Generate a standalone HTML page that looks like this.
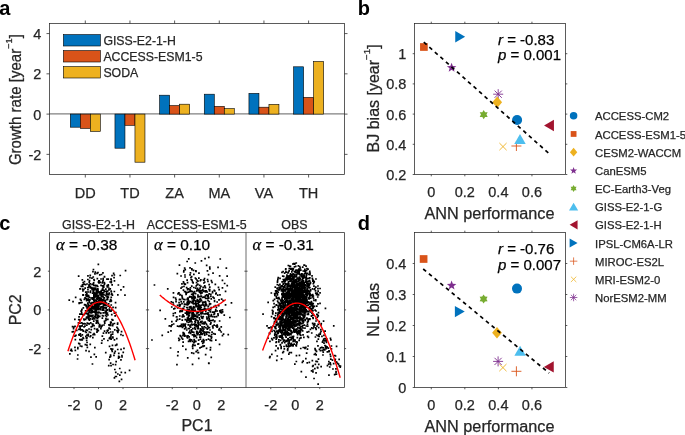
<!DOCTYPE html>
<html><head><meta charset="utf-8"><style>
html,body{margin:0;padding:0;background:#fff;}
svg{display:block;font-family:"Liberation Sans", sans-serif;will-change:transform;}
text{stroke:#262626;stroke-width:0.25px;}
text.k{stroke:#000;}
text.b{stroke-width:0;}
</style></head><body>
<svg width="685" height="435" viewBox="0 0 685 435">
<rect width="685" height="435" fill="#fff"/>
<text x="-0.8" y="14.6" font-size="20" text-anchor="start" font-weight="bold" fill="#000" class="b" >a</text>
<text x="357.8" y="14.6" font-size="20" text-anchor="start" font-weight="bold" fill="#000" class="b" >b</text>
<text x="-0.8" y="229.8" font-size="20" text-anchor="start" font-weight="bold" fill="#000" class="b" >c</text>
<text x="357.7" y="229.8" font-size="20" text-anchor="start" font-weight="bold" fill="#000" class="b" >d</text>
<line x1="49.5" y1="113.95" x2="344.5" y2="113.95" stroke="#808080" stroke-width="1.3"/>
<rect x="70.3" y="114.1" width="10" height="13.1" fill="#0072BD" stroke="#000" stroke-width="0.6"/>
<rect x="80.3" y="114.1" width="10" height="14.3" fill="#D95319" stroke="#000" stroke-width="0.6"/>
<rect x="90.3" y="114.1" width="10" height="17.3" fill="#EDB120" stroke="#000" stroke-width="0.6"/>
<rect x="114.96" y="114.1" width="10" height="34.1" fill="#0072BD" stroke="#000" stroke-width="0.6"/>
<rect x="124.96" y="114.1" width="10" height="11.2" fill="#D95319" stroke="#000" stroke-width="0.6"/>
<rect x="134.96" y="114.1" width="10" height="48.1" fill="#EDB120" stroke="#000" stroke-width="0.6"/>
<rect x="159.62" y="95.2" width="10" height="18.9" fill="#0072BD" stroke="#000" stroke-width="0.6"/>
<rect x="169.62" y="105.6" width="10" height="8.5" fill="#D95319" stroke="#000" stroke-width="0.6"/>
<rect x="179.62" y="104.2" width="10" height="9.9" fill="#EDB120" stroke="#000" stroke-width="0.6"/>
<rect x="204.28" y="94.2" width="10" height="19.9" fill="#0072BD" stroke="#000" stroke-width="0.6"/>
<rect x="214.28" y="106.4" width="10" height="7.7" fill="#D95319" stroke="#000" stroke-width="0.6"/>
<rect x="224.28" y="108.6" width="10" height="5.5" fill="#EDB120" stroke="#000" stroke-width="0.6"/>
<rect x="248.94" y="93.4" width="10" height="20.7" fill="#0072BD" stroke="#000" stroke-width="0.6"/>
<rect x="258.94" y="107.2" width="10" height="6.9" fill="#D95319" stroke="#000" stroke-width="0.6"/>
<rect x="268.94" y="104.4" width="10" height="9.7" fill="#EDB120" stroke="#000" stroke-width="0.6"/>
<rect x="293.6" y="66.8" width="10" height="47.3" fill="#0072BD" stroke="#000" stroke-width="0.6"/>
<rect x="303.6" y="97.4" width="10" height="16.7" fill="#D95319" stroke="#000" stroke-width="0.6"/>
<rect x="313.6" y="61.5" width="10" height="52.6" fill="#EDB120" stroke="#000" stroke-width="0.6"/>
<rect x="49.5" y="23.5" width="295" height="151" fill="none" stroke="#262626" stroke-width="0.75"/>
<path d="M85.3 23.5v-3M85.3 174.5v3M129.96 23.5v-3M129.96 174.5v3M174.62 23.5v-3M174.62 174.5v3M219.28 23.5v-3M219.28 174.5v3M263.94 23.5v-3M263.94 174.5v3M308.6 23.5v-3M308.6 174.5v3" stroke="#262626" stroke-width="0.75"/>
<path d="M49.5 33.57h-3M344.5 33.57h3M49.5 73.83h-3M344.5 73.83h3M49.5 114.1h-3M344.5 114.1h3M49.5 154.37h-3M344.5 154.37h3" stroke="#262626" stroke-width="0.75"/>
<text x="41.3" y="39.07" font-size="14.5" text-anchor="end" font-weight="normal" fill="#262626" >4</text>
<text x="41.3" y="79.33" font-size="14.5" text-anchor="end" font-weight="normal" fill="#262626" >2</text>
<text x="41.3" y="119.6" font-size="14.5" text-anchor="end" font-weight="normal" fill="#262626" >0</text>
<text x="41.3" y="159.87" font-size="14.5" text-anchor="end" font-weight="normal" fill="#262626" >-2</text>
<text x="85.3" y="197.9" font-size="14.5" text-anchor="middle" font-weight="normal" fill="#262626" >DD</text>
<text x="129.96" y="197.9" font-size="14.5" text-anchor="middle" font-weight="normal" fill="#262626" >TD</text>
<text x="174.62" y="197.9" font-size="14.5" text-anchor="middle" font-weight="normal" fill="#262626" >ZA</text>
<text x="219.28" y="197.9" font-size="14.5" text-anchor="middle" font-weight="normal" fill="#262626" >MA</text>
<text x="263.94" y="197.9" font-size="14.5" text-anchor="middle" font-weight="normal" fill="#262626" >VA</text>
<text x="308.6" y="197.9" font-size="14.5" text-anchor="middle" font-weight="normal" fill="#262626" >TH</text>
<rect x="63.4" y="34.6" width="37" height="11.4" fill="#0072BD" stroke="#000" stroke-width="0.6"/>
<text x="103.4" y="45.1" font-size="12.3" text-anchor="start" font-weight="normal" fill="#262626" >GISS-E2-1-H</text>
<rect x="63.4" y="50.6" width="37" height="11.4" fill="#D95319" stroke="#000" stroke-width="0.6"/>
<text x="103.4" y="61.1" font-size="12.3" text-anchor="start" font-weight="normal" fill="#262626" >ACCESS-ESM1-5</text>
<rect x="63.4" y="66.6" width="37" height="11.4" fill="#EDB120" stroke="#000" stroke-width="0.6"/>
<text x="103.4" y="77.1" font-size="12.3" text-anchor="start" font-weight="normal" fill="#262626" >SODA</text>
<text transform="translate(20.6,99.6) rotate(-90)" font-size="16" text-anchor="middle" fill="#262626" textLength="131" lengthAdjust="spacingAndGlyphs">Growth rate [year<tspan dy="-8.6" font-size="9.8">&#8722;1</tspan><tspan dy="8.6">]</tspan></text>
<rect x="414.5" y="23.5" width="151" height="151" fill="none" stroke="#262626" stroke-width="0.75"/>
<path d="M431.28 23.5v-1.8M431.28 174.5v1.8M464.83 23.5v-1.8M464.83 174.5v1.8M498.39 23.5v-1.8M498.39 174.5v1.8M531.94 23.5v-1.8M531.94 174.5v1.8" stroke="#262626" stroke-width="0.75"/>
<path d="M414.5 174.5h-1.8M565.5 174.5h1.8M414.5 144.3h-1.8M565.5 144.3h1.8M414.5 114.1h-1.8M565.5 114.1h1.8M414.5 83.9h-1.8M565.5 83.9h1.8M414.5 53.7h-1.8M565.5 53.7h1.8" stroke="#262626" stroke-width="0.75"/>
<text x="406.3" y="180" font-size="14.5" text-anchor="end" font-weight="normal" fill="#262626" >0.2</text>
<text x="406.3" y="149.8" font-size="14.5" text-anchor="end" font-weight="normal" fill="#262626" >0.4</text>
<text x="406.3" y="119.6" font-size="14.5" text-anchor="end" font-weight="normal" fill="#262626" >0.6</text>
<text x="406.3" y="89.4" font-size="14.5" text-anchor="end" font-weight="normal" fill="#262626" >0.8</text>
<text x="406.3" y="59.2" font-size="14.5" text-anchor="end" font-weight="normal" fill="#262626" >1</text>
<text x="431.28" y="197.1" font-size="14.5" text-anchor="middle" font-weight="normal" fill="#262626" >0</text>
<text x="464.83" y="197.1" font-size="14.5" text-anchor="middle" font-weight="normal" fill="#262626" >0.2</text>
<text x="498.39" y="197.1" font-size="14.5" text-anchor="middle" font-weight="normal" fill="#262626" >0.4</text>
<text x="531.94" y="197.1" font-size="14.5" text-anchor="middle" font-weight="normal" fill="#262626" >0.6</text>
<text x="489.5" y="218.8" font-size="16" text-anchor="middle" fill="#262626" textLength="130" lengthAdjust="spacingAndGlyphs">ANN performance</text>
<rect x="414.5" y="232.5" width="151" height="155" fill="none" stroke="#262626" stroke-width="0.75"/>
<path d="M431.28 232.5v-1.8M431.28 387.5v1.8M464.83 232.5v-1.8M464.83 387.5v1.8M498.39 232.5v-1.8M498.39 387.5v1.8M531.94 232.5v-1.8M531.94 387.5v1.8" stroke="#262626" stroke-width="0.75"/>
<path d="M414.5 387.5h-1.8M565.5 387.5h1.8M414.5 356.5h-1.8M565.5 356.5h1.8M414.5 325.5h-1.8M565.5 325.5h1.8M414.5 294.5h-1.8M565.5 294.5h1.8M414.5 263.5h-1.8M565.5 263.5h1.8" stroke="#262626" stroke-width="0.75"/>
<text x="406.3" y="393" font-size="14.5" text-anchor="end" font-weight="normal" fill="#262626" >0</text>
<text x="406.3" y="362" font-size="14.5" text-anchor="end" font-weight="normal" fill="#262626" >0.1</text>
<text x="406.3" y="331" font-size="14.5" text-anchor="end" font-weight="normal" fill="#262626" >0.2</text>
<text x="406.3" y="300" font-size="14.5" text-anchor="end" font-weight="normal" fill="#262626" >0.3</text>
<text x="406.3" y="269" font-size="14.5" text-anchor="end" font-weight="normal" fill="#262626" >0.4</text>
<text x="431.28" y="410.1" font-size="14.5" text-anchor="middle" font-weight="normal" fill="#262626" >0</text>
<text x="464.83" y="410.1" font-size="14.5" text-anchor="middle" font-weight="normal" fill="#262626" >0.2</text>
<text x="498.39" y="410.1" font-size="14.5" text-anchor="middle" font-weight="normal" fill="#262626" >0.4</text>
<text x="531.94" y="410.1" font-size="14.5" text-anchor="middle" font-weight="normal" fill="#262626" >0.6</text>
<text x="489.5" y="431.8" font-size="16" text-anchor="middle" fill="#262626" textLength="130" lengthAdjust="spacingAndGlyphs">ANN performance</text>
<text transform="translate(378.6,98.4) rotate(-90)" font-size="16" text-anchor="middle" fill="#262626" textLength="108" lengthAdjust="spacingAndGlyphs">BJ bias [year<tspan dy="-8.6" font-size="9.8">&#8722;1</tspan><tspan dy="8.6">]</tspan></text>
<text transform="translate(378.6,309.8) rotate(-90)" font-size="16" text-anchor="middle" fill="#262626">NL bias</text>
<text x="498" y="44.5" font-size="15" fill="#000" class="k"><tspan font-style="italic">r</tspan> = -0.83</text>
<text x="498" y="59.9" font-size="15" fill="#000" class="k"><tspan font-style="italic">p</tspan> = 0.001</text>
<text x="498" y="254.2" font-size="15" fill="#000" class="k"><tspan font-style="italic">r</tspan> = -0.76</text>
<text x="498" y="269.6" font-size="15" fill="#000" class="k"><tspan font-style="italic">p</tspan> = 0.007</text>
<path d="M511.4 146H521.4M516.4 141V151" stroke="#D95319" stroke-width="0.9" fill="none"/>
<path d="M511.4 371.3H521.4M516.4 366.3V376.3" stroke="#D95319" stroke-width="0.9" fill="none"/>
<path d="M499.4 143L506.6 150.2M499.4 150.2L506.6 143" stroke="#EDB120" stroke-width="0.9" fill="none"/>
<path d="M499.3 364L506.5 371.2M499.3 371.2L506.5 364" stroke="#EDB120" stroke-width="0.9" fill="none"/>
<path d="M493.2 94.2H503.2M498.2 89.2V99.2M494.6 90.6L501.8 97.8M494.6 97.8L501.8 90.6" stroke="#7E2F8E" stroke-width="0.9" fill="none"/>
<path d="M493.1 361.4H503.1M498.1 356.4V366.4M494.5 357.8L501.7 365M494.5 365L501.7 357.8" stroke="#7E2F8E" stroke-width="0.9" fill="none"/>
<circle cx="517.1" cy="120" r="5" fill="#0072BD"/>
<circle cx="517" cy="288.6" r="5" fill="#0072BD"/>
<rect x="420.05" y="43.15" width="7.7" height="7.7" fill="#D95319"/>
<rect x="419.75" y="255.15" width="7.7" height="7.7" fill="#D95319"/>
<polygon points="497.2,96.5 502.1,102.2 497.2,107.9 492.3,102.2" fill="#EDB120"/>
<polygon points="497,327.1 501.9,332.8 497,338.5 492.1,332.8" fill="#EDB120"/>
<polygon points="451.6,62.7 452.83,66 456.36,66.15 453.6,68.35 454.54,71.75 451.6,69.8 448.66,71.75 449.6,68.35 446.84,66.15 450.37,66" fill="#7E2F8E"/>
<polygon points="451.6,280.5 452.83,283.8 456.36,283.95 453.6,286.15 454.54,289.55 451.6,287.6 448.66,289.55 449.6,286.15 446.84,283.95 450.37,283.8" fill="#7E2F8E"/>
<polygon points="483.7,110 485.08,112.21 487.68,112.3 486.46,114.6 487.68,116.9 485.08,116.99 483.7,119.2 482.32,116.99 479.72,116.9 480.94,114.6 479.72,112.3 482.32,112.21" fill="#77AC30"/>
<polygon points="483.6,294.4 484.98,296.61 487.58,296.7 486.36,299 487.58,301.3 484.98,301.39 483.6,303.6 482.22,301.39 479.62,301.3 480.84,299 479.62,296.7 482.22,296.61" fill="#77AC30"/>
<polygon points="520,134.05 525.72,143.95 514.28,143.95" fill="#4DBEEE"/>
<polygon points="520.1,345.75 525.82,355.65 514.38,355.65" fill="#4DBEEE"/>
<polygon points="544.05,125.5 553.95,119.78 553.95,131.22" fill="#A2142F"/>
<polygon points="543.85,366.9 553.75,361.18 553.75,372.62" fill="#A2142F"/>
<polygon points="465.15,36.7 455.25,42.42 455.25,30.98" fill="#0072BD"/>
<polygon points="464.75,311.6 454.85,317.32 454.85,305.88" fill="#0072BD"/>
<path d="M423.80 42.20L426.64 44.73M429.33 47.12L432.17 49.64M434.86 52.04L437.70 54.56M440.39 56.95L443.23 59.48M445.92 61.87L448.76 64.40M451.45 66.79L454.29 69.32M456.98 71.71L459.82 74.23M462.51 76.63L465.35 79.15M468.03 81.54L470.87 84.07M473.56 86.46L476.40 88.99M479.09 91.38L481.93 93.90M484.62 96.30L487.46 98.82M490.15 101.22L492.99 103.74M495.68 106.13L498.52 108.66M501.21 111.05L504.05 113.58M506.74 115.97L509.58 118.49M512.27 120.89L515.11 123.41M517.80 125.80L520.64 128.33M523.33 130.72L526.17 133.25M528.86 135.64L531.70 138.17M534.39 140.56L537.23 143.08M539.92 145.48L542.76 148.00M545.45 150.39L548.29 152.92" stroke="#000" stroke-width="1.7" fill="none"/>
<path d="M423.20 269.00L426.13 271.42M428.90 273.72L431.83 276.14M434.61 278.43L437.53 280.85M440.31 283.15L443.24 285.57M446.01 287.86L448.94 290.28M451.71 292.58L454.64 295.00M457.42 297.29L460.35 299.71M463.12 302.01L466.05 304.43M468.82 306.72L471.75 309.15M474.53 311.44L477.46 313.86M480.23 316.15L483.16 318.58M485.93 320.87L488.86 323.29M491.64 325.59L494.56 328.01M497.34 330.30L500.27 332.72M503.04 335.02L505.97 337.44M508.74 339.73L511.67 342.15M514.45 344.45L517.38 346.87M520.15 349.16L523.08 351.58M525.85 353.88L528.78 356.30M531.56 358.59L534.49 361.02M537.26 363.31L540.19 365.73M542.96 368.03L545.89 370.45M548.67 372.74L549.10 373.10" stroke="#000" stroke-width="1.7" fill="none"/>
<circle cx="573.6" cy="115.8" r="3.75" fill="#0072BD"/>
<text x="595" y="120.4" font-size="11.3" text-anchor="start" font-weight="normal" fill="#262626" >ACCESS-CM2</text>
<rect x="570.71" y="131.08" width="5.78" height="5.78" fill="#D95319"/>
<text x="595" y="138.57" font-size="11.3" text-anchor="start" font-weight="normal" fill="#262626" >ACCESS-ESM1-5</text>
<polygon points="573.6,147.86 577.27,152.14 573.6,156.41 569.93,152.14" fill="#EDB120"/>
<text x="595" y="156.74" font-size="11.3" text-anchor="start" font-weight="normal" fill="#262626" >CESM2-WACCM</text>
<polygon points="573.6,166.94 574.53,169.41 577.17,169.53 575.1,171.17 575.8,173.72 573.6,172.26 571.4,173.72 572.1,171.17 570.03,169.53 572.67,169.41" fill="#7E2F8E"/>
<text x="595" y="174.91" font-size="11.3" text-anchor="start" font-weight="normal" fill="#262626" >CanESM5</text>
<polygon points="573.6,185.03 574.63,186.69 576.59,186.76 575.67,188.48 576.59,190.21 574.63,190.27 573.6,191.93 572.57,190.27 570.61,190.21 571.53,188.48 570.61,186.76 572.57,186.69" fill="#77AC30"/>
<text x="595" y="193.08" font-size="11.3" text-anchor="start" font-weight="normal" fill="#262626" >EC-Earth3-Veg</text>
<polygon points="573.6,202.69 578.17,210.61 569.03,210.61" fill="#4DBEEE"/>
<text x="595" y="211.25" font-size="11.3" text-anchor="start" font-weight="normal" fill="#262626" >GISS-E2-1-G</text>
<polygon points="569.64,224.82 577.56,220.25 577.56,229.39" fill="#A2142F"/>
<text x="595" y="229.42" font-size="11.3" text-anchor="start" font-weight="normal" fill="#262626" >GISS-E2-1-H</text>
<polygon points="577.56,242.99 569.64,247.56 569.64,238.42" fill="#0072BD"/>
<text x="595" y="247.59" font-size="11.3" text-anchor="start" font-weight="normal" fill="#262626" >IPSL-CM6A-LR</text>
<path d="M569.85 261.16H577.35M573.6 257.41V264.91" stroke="#D95319" stroke-width="0.75" fill="none"/>
<text x="595" y="265.76" font-size="11.3" text-anchor="start" font-weight="normal" fill="#262626" >MIROC-ES2L</text>
<path d="M570.9 276.63L576.3 282.03M570.9 282.03L576.3 276.63" stroke="#EDB120" stroke-width="0.75" fill="none"/>
<text x="595" y="283.93" font-size="11.3" text-anchor="start" font-weight="normal" fill="#262626" >MRI-ESM2-0</text>
<path d="M569.85 297.5H577.35M573.6 293.75V301.25M570.9 294.8L576.3 300.2M570.9 300.2L576.3 294.8" stroke="#7E2F8E" stroke-width="0.75" fill="none"/>
<text x="595" y="302.1" font-size="11.3" text-anchor="start" font-weight="normal" fill="#262626" >NorESM2-MM</text>
<path d="M97.0 302.9h1.7M99.7 302.2h1.7M94.6 306.1h1.7M89.2 309.4h1.7M93.0 308.8h1.7M88.3 316.4h1.7M97.6 307.5h1.7M108.9 311.0h1.7M92.7 302.9h1.7M91.6 319.2h1.7M101.4 301.1h1.7M100.2 302.3h1.7M98.0 305.9h1.7M88.8 309.6h1.7M96.8 297.1h1.7M103.2 325.0h1.7M85.2 298.3h1.7M93.0 301.0h1.7M80.3 300.5h1.7M85.7 299.3h1.7M80.8 312.3h1.7M95.0 307.4h1.7M85.9 296.1h1.7M99.4 298.7h1.7M98.4 301.5h1.7M95.4 323.1h1.7M74.8 297.3h1.7M92.3 289.4h1.7M96.6 291.4h1.7M98.0 301.2h1.7M83.5 323.7h1.7M92.8 292.2h1.7M88.4 305.9h1.7M89.9 335.9h1.7M106.4 299.4h1.7M89.9 322.9h1.7M96.8 320.4h1.7M104.8 312.1h1.7M91.9 288.1h1.7M96.1 308.8h1.7M98.0 300.7h1.7M97.6 282.1h1.7M86.2 284.0h1.7M97.7 305.4h1.7M109.0 307.1h1.7M83.4 320.0h1.7M104.6 312.8h1.7M98.1 298.7h1.7M91.4 299.1h1.7M114.7 302.7h1.7M103.8 291.6h1.7M86.5 313.8h1.7M97.7 304.8h1.7M102.1 294.9h1.7M95.4 296.7h1.7M103.1 290.6h1.7M96.5 299.1h1.7M102.9 308.0h1.7M109.7 299.5h1.7M91.1 316.7h1.7M98.8 324.7h1.7M93.0 296.8h1.7M98.2 304.8h1.7M86.6 300.2h1.7M91.9 325.4h1.7M95.3 308.7h1.7M105.0 311.6h1.7M107.1 315.0h1.7M85.4 332.5h1.7M90.0 308.3h1.7M102.7 292.8h1.7M79.5 299.3h1.7M93.0 311.7h1.7M96.2 304.3h1.7M108.1 294.6h1.7M103.1 338.8h1.7M94.2 305.7h1.7M93.8 297.3h1.7M94.8 295.5h1.7M110.5 282.7h1.7M93.3 289.8h1.7M94.4 300.2h1.7M100.1 300.3h1.7M96.0 294.2h1.7M95.3 310.9h1.7M87.2 304.6h1.7M96.9 292.7h1.7M93.1 279.5h1.7M107.3 306.1h1.7M102.8 304.7h1.7M96.8 301.6h1.7M102.9 287.2h1.7M94.0 304.5h1.7M106.3 285.6h1.7M97.0 316.3h1.7M102.2 306.4h1.7M85.7 306.6h1.7M100.1 294.2h1.7M82.1 290.9h1.7M79.1 323.1h1.7M94.4 315.6h1.7M89.1 299.9h1.7M98.5 312.4h1.7M116.8 323.2h1.7M89.7 291.0h1.7M91.5 297.9h1.7M98.8 297.9h1.7M101.4 310.1h1.7M95.5 291.2h1.7M95.2 307.1h1.7M103.2 290.3h1.7M101.6 315.6h1.7M87.9 314.8h1.7M96.3 301.5h1.7M97.3 312.9h1.7M87.7 295.6h1.7M99.3 300.8h1.7M89.5 315.7h1.7M105.6 303.2h1.7M98.7 308.5h1.7M97.8 292.6h1.7M91.8 312.1h1.7M96.0 309.6h1.7M79.4 288.9h1.7M87.1 275.9h1.7M100.2 279.0h1.7M78.3 303.3h1.7M104.5 301.3h1.7M81.6 284.8h1.7M103.7 305.7h1.7M89.6 316.4h1.7M103.9 302.6h1.7M98.2 298.4h1.7M83.5 314.5h1.7M108.1 324.8h1.7M109.8 322.2h1.7M96.5 295.7h1.7M94.6 313.6h1.7M95.6 305.9h1.7M88.4 301.4h1.7M106.7 296.3h1.7M92.2 308.3h1.7M96.6 297.8h1.7M90.0 315.3h1.7M91.5 308.6h1.7M85.8 317.0h1.7M108.1 289.9h1.7M95.7 304.4h1.7M105.6 313.4h1.7M97.2 308.5h1.7M90.9 306.9h1.7M94.2 295.3h1.7M92.1 324.2h1.7M97.1 317.1h1.7M93.7 308.9h1.7M94.4 272.2h1.7M84.9 292.1h1.7M89.9 305.5h1.7M111.6 295.1h1.7M91.1 278.2h1.7M87.7 307.0h1.7M100.0 308.7h1.7M109.4 288.9h1.7M84.2 297.9h1.7M95.2 295.7h1.7M91.5 310.5h1.7M81.5 279.9h1.7M103.5 282.6h1.7M96.8 297.0h1.7M97.7 295.5h1.7M90.4 329.6h1.7M101.0 296.1h1.7M92.3 306.5h1.7M95.8 298.6h1.7M87.3 295.5h1.7M86.3 308.4h1.7M108.8 325.4h1.7M92.6 299.5h1.7M99.6 313.4h1.7M96.7 308.2h1.7M93.1 311.7h1.7M92.6 308.4h1.7M102.6 333.1h1.7M94.4 288.8h1.7M95.7 300.9h1.7M97.2 290.1h1.7M107.4 279.2h1.7M103.0 303.8h1.7M100.4 326.8h1.7M92.1 315.3h1.7M84.8 319.3h1.7M105.4 310.4h1.7M105.6 303.1h1.7M95.8 329.3h1.7M101.8 299.8h1.7M103.9 323.1h1.7M104.4 300.4h1.7M105.2 305.5h1.7M93.0 308.0h1.7M110.4 305.0h1.7M86.0 310.9h1.7M104.6 311.8h1.7M101.4 325.3h1.7M104.7 304.5h1.7M113.6 280.9h1.7M110.1 279.2h1.7M86.9 287.5h1.7M82.1 295.2h1.7M104.2 312.6h1.7M88.1 285.9h1.7M96.9 304.8h1.7M104.4 305.0h1.7M82.5 307.8h1.7M78.4 302.9h1.7M99.3 309.6h1.7M97.4 305.1h1.7M94.9 317.7h1.7M97.4 308.8h1.7M89.4 275.4h1.7M83.7 305.0h1.7M95.6 307.1h1.7M88.5 297.4h1.7M82.5 295.2h1.7M101.5 318.1h1.7M96.5 306.7h1.7M100.6 292.5h1.7M88.3 300.7h1.7M91.2 302.6h1.7M88.2 284.5h1.7M89.2 312.6h1.7M98.8 303.1h1.7M90.1 310.6h1.7M100.2 285.4h1.7M100.0 328.6h1.7M114.9 312.5h1.7M84.8 310.8h1.7M104.9 295.7h1.7M96.2 296.5h1.7M96.9 286.5h1.7M84.2 323.9h1.7M93.0 294.7h1.7M103.6 307.8h1.7M96.3 312.5h1.7M97.8 297.3h1.7M94.5 315.7h1.7M107.2 330.2h1.7M96.8 308.8h1.7M77.6 322.9h1.7M90.9 312.3h1.7M79.7 299.4h1.7M68.4 300.2h1.7M92.4 284.1h1.7M108.8 306.6h1.7M97.5 323.4h1.7M86.7 313.6h1.7M88.7 315.7h1.7M107.0 319.4h1.7M98.4 298.6h1.7M97.5 312.2h1.7M96.6 329.0h1.7M97.4 295.3h1.7M104.1 305.5h1.7M101.9 299.6h1.7M98.9 302.8h1.7M87.8 296.2h1.7M101.5 303.6h1.7M91.0 288.5h1.7M106.7 298.7h1.7M85.8 299.2h1.7M95.8 298.9h1.7M97.0 322.4h1.7M85.4 306.2h1.7M112.2 307.4h1.7M109.9 301.5h1.7M92.9 321.2h1.7M103.8 283.5h1.7M100.4 302.8h1.7M74.0 319.3h1.7M99.2 325.6h1.7M96.5 307.6h1.7M97.8 305.2h1.7M87.5 313.1h1.7M94.7 302.9h1.7M95.5 312.2h1.7M107.5 297.2h1.7M100.0 313.2h1.7M97.0 304.6h1.7M110.5 291.8h1.7M92.1 271.7h1.7M93.6 316.8h1.7M81.0 309.9h1.7M110.9 314.7h1.7M105.5 294.2h1.7M105.1 318.5h1.7M102.9 310.2h1.7M98.0 304.5h1.7M98.9 316.4h1.7M94.8 316.1h1.7M95.2 310.1h1.7M97.5 330.5h1.7M110.4 322.3h1.7M101.9 309.3h1.7M96.5 302.2h1.7M91.9 306.4h1.7M91.4 326.4h1.7M111.2 309.9h1.7M101.5 294.1h1.7M97.6 297.1h1.7M94.0 305.1h1.7M87.3 315.3h1.7M96.4 296.2h1.7M104.7 311.4h1.7M93.6 318.8h1.7M95.0 314.2h1.7M95.1 285.9h1.7M98.0 301.3h1.7M83.0 289.5h1.7M95.0 310.1h1.7M89.5 292.3h1.7M104.8 311.7h1.7M90.2 306.1h1.7M102.1 272.8h1.7M110.5 294.4h1.7M94.3 310.4h1.7M91.7 305.2h1.7M98.7 300.0h1.7M97.0 288.9h1.7M88.3 310.2h1.7M101.1 326.0h1.7M114.8 307.6h1.7M94.8 303.9h1.7M95.2 302.7h1.7M87.8 287.5h1.7M99.9 300.1h1.7M86.0 293.9h1.7M87.3 317.9h1.7M108.3 293.2h1.7M89.1 277.7h1.7M106.6 294.4h1.7M110.5 300.9h1.7M99.3 302.2h1.7M101.9 281.6h1.7M114.3 315.8h1.7M95.3 305.5h1.7M91.8 298.3h1.7M85.1 294.7h1.7M97.4 309.6h1.7M110.1 300.2h1.7M105.5 307.6h1.7M88.7 302.6h1.7M89.5 305.8h1.7M92.6 318.5h1.7M99.6 304.4h1.7M95.2 293.1h1.7M98.9 316.3h1.7M99.7 307.1h1.7M94.4 295.7h1.7M96.7 317.6h1.7M98.9 301.8h1.7M96.3 317.4h1.7M101.5 289.8h1.7M113.5 275.0h1.7M102.3 278.7h1.7M97.5 306.9h1.7M82.2 294.8h1.7M100.5 302.6h1.7M79.9 302.8h1.7M84.6 284.6h1.7M104.6 320.7h1.7M103.3 290.8h1.7M95.7 304.7h1.7M82.0 286.4h1.7M93.8 301.7h1.7M91.1 312.6h1.7M102.7 300.6h1.7M117.0 294.8h1.7M99.0 303.6h1.7M90.2 298.0h1.7M86.7 310.7h1.7M96.5 330.9h1.7M95.5 292.8h1.7M86.9 295.3h1.7M98.1 302.2h1.7M86.9 303.2h1.7M106.8 291.1h1.7M106.4 309.8h1.7M106.6 313.0h1.7M92.9 306.5h1.7M101.6 289.1h1.7M95.9 321.5h1.7M93.6 289.1h1.7M94.0 312.1h1.7M85.6 317.9h1.7M84.3 288.2h1.7M104.0 305.3h1.7M95.4 320.4h1.7M98.9 308.6h1.7M105.9 292.4h1.7M81.8 289.1h1.7M90.1 309.5h1.7M98.6 299.0h1.7M100.5 295.1h1.7M93.7 312.2h1.7M106.1 299.6h1.7M98.9 304.5h1.7M86.3 310.8h1.7M88.8 310.3h1.7M104.1 303.3h1.7M101.1 303.7h1.7M80.3 311.2h1.7M108.9 309.5h1.7M102.3 290.1h1.7M108.9 301.4h1.7M93.7 293.0h1.7M94.4 289.0h1.7M87.1 296.7h1.7M119.4 275.5h1.7M95.5 314.5h1.7M111.0 293.9h1.7M91.3 308.1h1.7M98.5 280.8h1.7M82.3 282.7h1.7M93.7 328.7h1.7M105.7 316.3h1.7M86.0 295.7h1.7M106.5 294.2h1.7M100.0 294.8h1.7M87.8 305.0h1.7M92.6 298.4h1.7M93.0 295.9h1.7M96.6 305.1h1.7M92.3 291.2h1.7M89.7 332.5h1.7M94.4 296.1h1.7M88.0 317.1h1.7M85.7 292.0h1.7M96.6 307.0h1.7M104.8 315.3h1.7M83.5 299.4h1.7M97.1 315.6h1.7M91.3 315.6h1.7M88.4 323.8h1.7M104.6 304.4h1.7M92.5 297.8h1.7M110.3 291.2h1.7M90.2 305.9h1.7M100.4 290.9h1.7M95.0 303.9h1.7M90.4 305.3h1.7M102.2 296.9h1.7M95.7 290.8h1.7M102.4 308.4h1.7M96.6 307.2h1.7M87.5 306.1h1.7M96.1 303.1h1.7M97.5 315.4h1.7M105.5 291.2h1.7M89.0 309.1h1.7M96.7 298.3h1.7M81.9 314.5h1.7M102.8 299.6h1.7M87.5 299.2h1.7M81.1 309.4h1.7M96.5 278.7h1.7M106.8 299.4h1.7M83.6 281.7h1.7M87.4 292.0h1.7M90.5 312.4h1.7M87.1 308.9h1.7M100.4 298.6h1.7M89.9 303.3h1.7M90.7 303.5h1.7M102.2 307.7h1.7M90.4 326.8h1.7M100.9 306.9h1.7M88.5 332.0h1.7M86.3 299.4h1.7M80.8 313.2h1.7M113.5 313.1h1.7M94.2 306.9h1.7M99.2 300.7h1.7M96.8 322.1h1.7M98.4 326.1h1.7M97.5 317.5h1.7M113.9 329.8h1.7M87.9 316.3h1.7M83.3 284.1h1.7M88.1 317.4h1.7M85.3 295.9h1.7M103.6 321.3h1.7M104.3 300.3h1.7M88.6 308.1h1.7M84.8 304.8h1.7M93.9 296.9h1.7M109.3 282.0h1.7M72.2 301.6h1.7M101.7 302.5h1.7M87.5 316.3h1.7M106.2 296.8h1.7M87.5 307.2h1.7M94.5 293.6h1.7M83.8 304.6h1.7M88.4 282.2h1.7M109.3 329.0h1.7M104.3 307.8h1.7M93.5 293.0h1.7M89.4 308.5h1.7M80.3 314.1h1.7M93.6 307.4h1.7M96.8 321.5h1.7M96.3 302.6h1.7M96.2 273.4h1.7M87.1 289.7h1.7M96.5 318.0h1.7M96.7 315.1h1.7M108.4 309.2h1.7M113.5 291.5h1.7M95.8 314.4h1.7M90.3 312.8h1.7M96.5 293.0h1.7M91.7 293.2h1.7M90.5 308.8h1.7M96.5 318.2h1.7M87.8 323.6h1.7M102.4 312.9h1.7M96.1 332.1h1.7M99.2 294.7h1.7M95.4 312.0h1.7M90.6 298.0h1.7M88.7 280.6h1.7M94.9 289.3h1.7M92.2 318.6h1.7M99.1 293.2h1.7M97.0 289.5h1.7M85.0 313.5h1.7M97.6 316.1h1.7M85.2 305.5h1.7M91.6 324.2h1.7M94.4 285.6h1.7M78.7 334.3h1.7M89.3 283.9h1.7M97.5 264.4h1.7M97.9 292.2h1.7M101.7 285.8h1.7M102.8 286.2h1.7M98.0 280.9h1.7M111.2 275.6h1.7M79.1 289.0h1.7M100.1 291.9h1.7M93.1 299.0h1.7M101.4 292.8h1.7M102.3 280.1h1.7M91.2 284.3h1.7M93.8 293.6h1.7M107.9 288.0h1.7M103.5 284.5h1.7M93.4 280.4h1.7M120.1 289.9h1.7M122.7 286.9h1.7M85.8 300.6h1.7M103.1 294.8h1.7M124.7 270.7h1.7M107.8 303.8h1.7M102.3 287.7h1.7M98.1 282.8h1.7M94.8 288.0h1.7M98.0 291.8h1.7M94.7 285.3h1.7M107.4 284.8h1.7M96.2 285.5h1.7M95.8 301.1h1.7M88.3 286.0h1.7M99.6 292.2h1.7M91.3 289.5h1.7M98.3 282.8h1.7M110.3 279.2h1.7M103.7 276.9h1.7M105.0 289.1h1.7M103.6 276.7h1.7M100.7 274.5h1.7M98.9 274.8h1.7M97.1 272.6h1.7M107.5 286.0h1.7M89.5 286.3h1.7M113.2 277.6h1.7M100.4 296.6h1.7M92.8 282.9h1.7M95.3 289.4h1.7M93.5 288.0h1.7M101.7 299.9h1.7M93.1 292.5h1.7M111.3 284.9h1.7M92.4 277.0h1.7M77.8 276.1h1.7M92.9 285.4h1.7M80.4 286.4h1.7M99.7 292.0h1.7M110.5 281.2h1.7M106.4 286.9h1.7M87.0 279.5h1.7M92.6 269.5h1.7M117.5 285.0h1.7M103.2 297.8h1.7M100.1 292.2h1.7M110.4 297.4h1.7M124.1 295.2h1.7M112.8 273.4h1.7M101.5 282.8h1.7M103.6 298.0h1.7M106.1 279.1h1.7M94.1 273.8h1.7M89.7 287.9h1.7M100.6 290.6h1.7M90.8 287.7h1.7M99.5 282.3h1.7M81.0 346.4h1.7M77.0 347.5h1.7M69.0 353.8h1.7M80.0 336.1h1.7M86.6 314.0h1.7M84.5 344.6h1.7M77.0 348.7h1.7M87.4 313.2h1.7M72.9 327.2h1.7M89.9 309.5h1.7M88.2 329.0h1.7M81.0 322.9h1.7M79.0 339.7h1.7M69.8 350.5h1.7M82.3 330.9h1.7M92.2 334.7h1.7M81.4 340.0h1.7M86.1 337.9h1.7M84.1 326.2h1.7M79.0 314.2h1.7M86.1 335.1h1.7M79.0 320.6h1.7M83.2 326.8h1.7M86.0 325.1h1.7M85.0 336.4h1.7M84.9 312.8h1.7M78.8 326.6h1.7M74.5 339.7h1.7M78.1 329.3h1.7M80.0 329.8h1.7M74.1 347.3h1.7M77.9 319.6h1.7M75.9 330.3h1.7M79.9 326.2h1.7M72.6 331.6h1.7M71.1 351.0h1.7M79.1 319.7h1.7M76.7 359.0h1.7M80.8 339.3h1.7M85.2 350.7h1.7M74.1 336.2h1.7M74.5 350.3h1.7M86.4 323.1h1.7M78.0 334.8h1.7M82.5 331.2h1.7M87.3 336.0h1.7M77.9 343.3h1.7M80.2 314.2h1.7M81.1 302.5h1.7M79.1 335.1h1.7M78.8 343.9h1.7M74.2 326.4h1.7M79.5 333.9h1.7M81.3 325.9h1.7M87.8 319.4h1.7M77.0 355.0h1.7M82.6 315.1h1.7M81.9 323.8h1.7M75.1 335.3h1.7M83.0 319.0h1.7M80.1 340.0h1.7M79.4 328.2h1.7M70.5 349.3h1.7M81.6 329.8h1.7M88.4 311.9h1.7M86.5 330.3h1.7M71.7 326.6h1.7M86.1 345.2h1.7M72.7 328.6h1.7M89.5 318.8h1.7M82.7 338.5h1.7M87.4 334.4h1.7M79.5 346.0h1.7M78.2 316.8h1.7M85.4 330.1h1.7M78.6 326.2h1.7M71.5 331.8h1.7M89.4 344.4h1.7M82.2 337.6h1.7M85.8 340.3h1.7M79.0 329.3h1.7M84.6 331.6h1.7M88.7 320.1h1.7M85.6 338.1h1.7M81.5 334.9h1.7M112.0 332.0h1.7M114.7 345.3h1.7M115.5 376.5h1.7M120.1 334.7h1.7M109.8 325.4h1.7M102.5 316.0h1.7M107.0 340.5h1.7M121.1 355.5h1.7M117.9 353.4h1.7M119.0 375.1h1.7M105.4 320.0h1.7M112.0 337.0h1.7M109.8 356.4h1.7M109.8 363.2h1.7M111.8 325.7h1.7M110.3 334.5h1.7M116.9 349.5h1.7M121.2 357.0h1.7M115.8 345.0h1.7M109.8 332.0h1.7M128.7 370.4h1.7M116.1 330.6h1.7M114.7 364.6h1.7M117.2 331.6h1.7M110.2 311.1h1.7M106.6 331.5h1.7M108.5 310.6h1.7M109.1 337.6h1.7M101.2 340.5h1.7M111.8 349.1h1.7M110.1 336.0h1.7M110.0 337.6h1.7M110.2 365.7h1.7M106.1 314.1h1.7M108.5 338.4h1.7M117.8 356.3h1.7M109.0 357.1h1.7M115.6 345.0h1.7M105.4 332.9h1.7M113.1 355.3h1.7M115.9 338.6h1.7M114.9 372.4h1.7M115.3 361.7h1.7M116.1 327.3h1.7M106.1 310.3h1.7M117.0 374.0h1.7M112.1 338.0h1.7M120.1 359.9h1.7M108.3 359.7h1.7M113.6 377.9h1.7M113.6 353.1h1.7M108.7 346.4h1.7M114.0 369.5h1.7M109.4 337.6h1.7M112.0 320.1h1.7M109.4 338.7h1.7M112.1 324.1h1.7M118.6 357.1h1.7M114.4 351.3h1.7M109.8 311.1h1.7M116.7 324.2h1.7M113.6 323.5h1.7M110.3 339.2h1.7M118.9 368.5h1.7M115.0 376.5h1.7M120.5 372.4h1.7M120.2 349.4h1.7M112.2 364.5h1.7M109.8 323.8h1.7M116.9 332.4h1.7M105.3 311.5h1.7M118.5 381.3h1.7M106.3 330.7h1.7M104.8 312.7h1.7M109.1 338.7h1.7M120.7 331.7h1.7M114.6 376.5h1.7M105.2 308.3h1.7M107.9 332.9h1.7M117.7 358.2h1.7M120.7 379.4h1.7M116.0 344.3h1.7M123.1 348.3h1.7M111.1 319.7h1.7M124.4 372.6h1.7M94.0 347.7h1.7M122.1 335.5h1.7M92.0 337.7h1.7M93.2 325.6h1.7M97.4 330.7h1.7M90.1 357.1h1.7M111.8 334.2h1.7M117.0 328.5h1.7M93.2 333.6h1.7M83.2 327.0h1.7M111.6 345.3h1.7M111.0 350.0h1.7M108.2 328.1h1.7M111.4 351.3h1.7M91.6 364.0h1.7M98.4 327.0h1.7M86.5 347.3h1.7M86.2 342.5h1.7M109.7 355.2h1.7M93.5 354.3h1.7M122.4 352.4h1.7M100.8 343.1h1.7M93.8 334.6h1.7M107.9 365.6h1.7M117.8 330.2h1.7M104.9 352.6h1.7M88.2 351.3h1.7M103.7 331.1h1.7M113.6 339.8h1.7M95.3 356.8h1.7M92.5 317.5h1.7M110.1 348.9h1.7M101.5 336.1h1.7M89.3 336.6h1.7M96.4 322.5h1.7" stroke="#000" stroke-width="1.7" fill="none"/>
<polyline points="67.90,351.25 69.04,347.83 70.18,344.53 71.32,341.35 72.46,338.30 73.59,335.37 74.73,332.56 75.87,329.88 77.01,327.32 78.15,324.88 79.29,322.57 80.43,320.38 81.57,318.31 82.71,316.37 83.85,314.55 84.98,312.85 86.12,311.28 87.26,309.83 88.40,308.50 89.54,307.30 90.68,306.22 91.82,305.26 92.96,304.42 94.10,303.71 95.24,303.12 96.37,302.66 97.51,302.32 98.65,302.10 99.79,302.00 100.93,302.03 102.07,302.18 103.21,302.46 104.35,302.86 105.49,303.38 106.63,304.02 107.76,304.79 108.90,305.68 110.04,306.70 111.18,307.83 112.32,309.09 113.46,310.48 114.60,311.98 115.74,313.61 116.88,315.37 118.02,317.25 119.15,319.25 120.29,321.37 121.43,323.62 122.57,325.99 123.71,328.48 124.85,331.09 125.99,333.83 127.13,336.70 128.27,339.68 129.41,342.79 130.54,346.02 131.68,349.38 132.82,352.86 133.96,356.46 135.10,360.19" fill="none" stroke="#FF0000" stroke-width="1.4"/>
<path d="M74 232.5v-1.6M74 387.5v1.6M98.5 232.5v-1.6M98.5 387.5v1.6M123 232.5v-1.6M123 387.5v1.6" stroke="#262626" stroke-width="0.75"/>
<path d="M49.5 271.2h-1.6M147.5 271.2h1.6M49.5 309.9h-1.6M147.5 309.9h1.6M49.5 348.6h-1.6M147.5 348.6h1.6" stroke="#262626" stroke-width="0.75"/>
<text x="98.5" y="228.8" font-size="12.4" text-anchor="middle" font-weight="normal" fill="#262626" >GISS-E2-1-H</text>
<text x="56" y="249.6" font-size="15.4" fill="#000" class="k"><tspan font-family="Liberation Serif" font-style="italic" font-size="16.5">α</tspan> = -0.38</text>
<text x="74" y="410.2" font-size="14.5" text-anchor="middle" font-weight="normal" fill="#262626" >-2</text>
<text x="98.5" y="410.2" font-size="14.5" text-anchor="middle" font-weight="normal" fill="#262626" >0</text>
<text x="123" y="410.2" font-size="14.5" text-anchor="middle" font-weight="normal" fill="#262626" >2</text>
<path d="M190.3 291.5h1.7M208.2 289.4h1.7M186.8 304.3h1.7M209.6 324.2h1.7M186.6 303.6h1.7M191.5 309.6h1.7M219.1 294.8h1.7M199.8 337.2h1.7M197.2 309.5h1.7M223.4 315.1h1.7M200.3 334.4h1.7M185.9 307.5h1.7M204.9 311.1h1.7M181.4 320.2h1.7M209.7 303.8h1.7M210.7 340.7h1.7M188.9 312.9h1.7M188.2 303.1h1.7M198.1 306.1h1.7M196.1 290.0h1.7M183.9 336.2h1.7M202.9 342.5h1.7M170.9 307.0h1.7M190.6 302.6h1.7M191.0 268.8h1.7M192.6 299.3h1.7M199.7 329.6h1.7M180.9 295.5h1.7M203.1 329.0h1.7M193.7 342.0h1.7M187.9 258.8h1.7M179.2 305.2h1.7M181.4 297.3h1.7M200.3 300.4h1.7M184.1 275.0h1.7M196.7 306.1h1.7M208.9 287.1h1.7M208.5 332.7h1.7M215.0 340.1h1.7M192.3 282.9h1.7M182.6 281.9h1.7M208.4 301.5h1.7M199.7 307.2h1.7M209.7 308.5h1.7M196.0 325.8h1.7M210.5 280.6h1.7M206.3 298.4h1.7M204.7 301.6h1.7M202.1 304.2h1.7M200.8 290.5h1.7M198.8 301.6h1.7M198.7 296.7h1.7M208.0 335.6h1.7M189.6 301.5h1.7M217.2 267.4h1.7M194.6 322.4h1.7M208.0 314.5h1.7M194.8 293.7h1.7M192.9 292.4h1.7M220.8 299.1h1.7M192.1 344.7h1.7M180.3 301.6h1.7M187.2 335.9h1.7M192.0 328.6h1.7M222.3 300.7h1.7M198.4 317.8h1.7M207.4 295.4h1.7M200.2 296.0h1.7M204.1 297.1h1.7M218.0 330.0h1.7M187.4 324.9h1.7M203.3 333.4h1.7M199.6 322.7h1.7M183.4 334.0h1.7M195.7 325.2h1.7M192.7 316.1h1.7M167.4 332.2h1.7M203.2 340.7h1.7M202.5 339.5h1.7M190.5 302.6h1.7M179.5 310.6h1.7M214.0 291.0h1.7M199.2 290.6h1.7M208.4 318.8h1.7M213.2 298.2h1.7M189.5 341.1h1.7M205.8 265.4h1.7M192.9 287.5h1.7M195.1 316.2h1.7M194.9 335.5h1.7M195.9 304.1h1.7M209.5 349.8h1.7M197.4 327.7h1.7M194.0 296.6h1.7M192.5 310.3h1.7M200.1 321.8h1.7M184.9 292.5h1.7M189.7 332.9h1.7M195.3 306.1h1.7M189.0 322.0h1.7M194.4 329.1h1.7M188.4 302.4h1.7M220.4 332.0h1.7M212.2 273.2h1.7M201.4 323.7h1.7M195.2 271.4h1.7M222.7 334.1h1.7M199.9 299.5h1.7M194.8 336.2h1.7M199.6 339.1h1.7M199.6 308.6h1.7M213.2 298.1h1.7M195.7 337.7h1.7M221.6 287.8h1.7M185.1 328.0h1.7M204.4 309.2h1.7M183.6 304.1h1.7M218.2 299.8h1.7M191.9 348.4h1.7M195.2 278.9h1.7M207.2 300.4h1.7M211.3 320.5h1.7M182.3 332.6h1.7M191.7 346.3h1.7M178.8 339.5h1.7M197.6 300.8h1.7M194.7 318.8h1.7M191.6 334.8h1.7M187.5 322.5h1.7M191.2 280.1h1.7M186.8 318.6h1.7M202.4 323.7h1.7M214.5 284.4h1.7M172.2 302.5h1.7M194.5 310.9h1.7M190.8 324.2h1.7M201.9 343.4h1.7M184.2 335.6h1.7M194.1 321.6h1.7M183.2 316.3h1.7M204.4 304.6h1.7M197.1 300.6h1.7M193.9 307.3h1.7M200.4 307.4h1.7M192.9 332.3h1.7M176.9 355.6h1.7M203.2 322.4h1.7M199.4 331.2h1.7M194.0 325.1h1.7M208.0 317.4h1.7M210.8 337.1h1.7M182.5 334.4h1.7M186.3 313.9h1.7M214.9 309.5h1.7M213.3 325.2h1.7M186.9 301.7h1.7M181.4 316.3h1.7M188.1 332.6h1.7M189.8 311.0h1.7M176.5 273.6h1.7M196.3 325.5h1.7M180.2 288.1h1.7M181.1 283.8h1.7M207.1 281.4h1.7M187.5 328.5h1.7M195.0 270.9h1.7M203.6 309.5h1.7M205.9 317.0h1.7M191.8 316.5h1.7M196.4 299.6h1.7M185.8 310.8h1.7M217.3 315.4h1.7M203.9 285.8h1.7M182.4 326.5h1.7M195.9 333.0h1.7M204.6 295.7h1.7M201.8 297.5h1.7M218.3 289.6h1.7M212.7 333.6h1.7M189.3 289.9h1.7M194.8 302.0h1.7M180.2 276.0h1.7M199.0 337.2h1.7M197.8 307.4h1.7M229.0 317.5h1.7M197.1 344.1h1.7M170.3 326.4h1.7M187.7 288.9h1.7M197.3 321.4h1.7M180.5 326.5h1.7M185.3 294.2h1.7M191.4 291.7h1.7M200.1 291.8h1.7M193.9 327.9h1.7M185.0 313.0h1.7M205.5 290.9h1.7M189.3 325.2h1.7M189.8 327.1h1.7M179.0 295.0h1.7M186.3 280.1h1.7M203.9 335.2h1.7M176.1 364.6h1.7M195.0 341.3h1.7M204.7 332.4h1.7M191.3 314.6h1.7M198.8 299.3h1.7M182.2 314.8h1.7M212.0 326.1h1.7M209.4 308.7h1.7M198.8 331.4h1.7M174.4 312.8h1.7M183.1 324.9h1.7M207.9 257.4h1.7M216.9 295.2h1.7M199.5 328.8h1.7M211.2 332.1h1.7M188.5 320.7h1.7M193.6 345.3h1.7M195.9 326.7h1.7M201.1 326.8h1.7M177.2 293.9h1.7M207.4 320.5h1.7M212.1 327.9h1.7M181.8 339.1h1.7M179.3 335.7h1.7M200.2 313.2h1.7M187.9 316.2h1.7M166.9 288.8h1.7M205.8 324.6h1.7M197.8 290.3h1.7M190.1 306.6h1.7M221.8 311.9h1.7M197.6 352.6h1.7M186.7 338.0h1.7M197.1 296.8h1.7M183.2 283.4h1.7M186.6 307.6h1.7M200.6 296.3h1.7M189.1 320.1h1.7M190.4 319.4h1.7M216.3 325.3h1.7M206.4 292.0h1.7M205.7 304.9h1.7M202.4 316.6h1.7M201.8 318.5h1.7M213.7 300.5h1.7M195.7 305.3h1.7M218.6 328.7h1.7M184.2 277.0h1.7M192.8 306.6h1.7M179.0 311.6h1.7M191.7 281.8h1.7M202.3 291.0h1.7M213.7 313.6h1.7M187.8 300.9h1.7M196.0 333.6h1.7M191.5 324.9h1.7M186.9 357.8h1.7M181.3 287.0h1.7M196.6 350.4h1.7M174.7 298.0h1.7M197.3 328.7h1.7M196.2 331.7h1.7M187.8 315.8h1.7M183.5 306.4h1.7M178.9 299.4h1.7M218.8 275.8h1.7M179.5 304.5h1.7M215.0 293.9h1.7M203.3 324.0h1.7M191.4 297.3h1.7M181.7 308.7h1.7M208.7 321.2h1.7M217.1 313.8h1.7M184.5 313.1h1.7M192.2 308.0h1.7M208.8 303.7h1.7M200.0 322.2h1.7M220.4 326.9h1.7M188.9 296.6h1.7M202.5 346.3h1.7M180.6 324.4h1.7M221.6 280.3h1.7M168.9 325.9h1.7M194.4 297.9h1.7M194.2 345.4h1.7M219.4 259.0h1.7M191.7 364.4h1.7M195.7 282.6h1.7M203.2 280.2h1.7M215.3 293.2h1.7M195.1 316.3h1.7M208.6 304.6h1.7M202.2 330.1h1.7M192.3 295.4h1.7M196.9 334.6h1.7M196.3 317.4h1.7M184.7 291.6h1.7M210.8 334.5h1.7M178.9 319.2h1.7M210.2 308.5h1.7M207.6 339.1h1.7M194.8 288.2h1.7M186.5 304.9h1.7M193.1 342.6h1.7M201.7 312.8h1.7M205.0 327.6h1.7M199.4 325.2h1.7M208.1 310.3h1.7M189.1 326.3h1.7M198.8 292.2h1.7M176.7 326.2h1.7M205.3 291.9h1.7M197.8 312.7h1.7M190.8 294.4h1.7M210.1 322.8h1.7M204.4 322.1h1.7M161.4 335.3h1.7M196.4 300.1h1.7M178.1 292.8h1.7M209.0 268.8h1.7M226.4 285.6h1.7M189.5 306.8h1.7M196.8 316.1h1.7M192.8 303.9h1.7M200.2 312.4h1.7M203.8 282.1h1.7M211.7 292.7h1.7M183.8 328.8h1.7M215.2 325.8h1.7M184.5 284.1h1.7M199.3 305.6h1.7M210.1 316.5h1.7M204.6 287.7h1.7M184.4 319.7h1.7M187.3 317.5h1.7M190.2 321.2h1.7M195.3 351.7h1.7M210.0 294.3h1.7M180.1 336.4h1.7M201.6 323.4h1.7M203.4 326.9h1.7M202.7 297.1h1.7M201.6 313.2h1.7M214.5 311.5h1.7M201.9 346.0h1.7M206.4 313.6h1.7M202.8 341.8h1.7M217.9 305.6h1.7M172.6 304.4h1.7M211.6 312.2h1.7M192.7 270.3h1.7M192.5 301.1h1.7M184.0 299.7h1.7M173.0 308.9h1.7M191.2 315.8h1.7M187.5 292.2h1.7M202.0 289.5h1.7M177.9 338.3h1.7M213.4 290.4h1.7M199.2 301.4h1.7M192.9 292.3h1.7M187.2 302.4h1.7M186.3 337.1h1.7M182.1 335.7h1.7M189.2 274.8h1.7M196.0 306.7h1.7M193.7 340.6h1.7M178.6 304.8h1.7M192.6 319.2h1.7M185.0 349.3h1.7M197.9 358.4h1.7M218.7 344.4h1.7M203.6 306.3h1.7M192.1 312.8h1.7M176.0 316.9h1.7M178.6 306.1h1.7M175.2 299.6h1.7M204.8 354.6h1.7M186.5 318.0h1.7M196.7 328.7h1.7M188.3 336.9h1.7M197.0 323.0h1.7M213.1 314.3h1.7M187.5 317.2h1.7M191.7 341.4h1.7M186.0 321.7h1.7M206.6 270.9h1.7M183.3 333.3h1.7M182.0 346.1h1.7M178.9 306.2h1.7M178.6 299.7h1.7M201.7 302.4h1.7M227.4 334.6h1.7M183.7 291.6h1.7M207.6 327.8h1.7M199.0 334.9h1.7M182.4 324.2h1.7M192.5 314.0h1.7M193.0 297.3h1.7M187.4 299.2h1.7M219.5 312.3h1.7M172.6 292.9h1.7M200.6 310.2h1.7M200.0 293.6h1.7M188.8 340.4h1.7M197.7 343.8h1.7M206.7 296.1h1.7M197.8 340.1h1.7M201.0 318.0h1.7M204.4 313.8h1.7M171.0 321.7h1.7M214.0 321.0h1.7M223.8 283.5h1.7M207.9 363.2h1.7M208.3 293.9h1.7M178.6 265.2h1.7M194.4 311.4h1.7M186.0 312.2h1.7M188.7 297.1h1.7M207.7 274.7h1.7M186.1 336.0h1.7M194.3 310.1h1.7M172.5 315.6h1.7M194.0 300.5h1.7M197.0 308.6h1.7M187.3 298.4h1.7M187.1 320.4h1.7M219.0 310.8h1.7M181.1 325.5h1.7M183.0 325.3h1.7M186.0 314.7h1.7M210.6 314.7h1.7M221.6 335.7h1.7M200.0 279.9h1.7M187.1 314.6h1.7M190.7 339.9h1.7M208.9 289.5h1.7M184.7 327.0h1.7M213.7 301.5h1.7M213.3 312.2h1.7M196.8 306.7h1.7M203.8 308.4h1.7M205.1 323.5h1.7M214.9 311.0h1.7M183.0 270.5h1.7M210.4 357.3h1.7M191.3 310.5h1.7M186.5 303.0h1.7M197.2 333.2h1.7M193.3 339.7h1.7M183.8 268.0h1.7M176.3 319.4h1.7M184.4 269.6h1.7M213.7 300.9h1.7M219.9 310.3h1.7M203.9 302.2h1.7M210.4 298.9h1.7M189.6 287.9h1.7M195.0 303.0h1.7M199.4 308.9h1.7M182.7 308.3h1.7M183.8 284.4h1.7M197.1 295.2h1.7M192.0 332.2h1.7M182.9 324.7h1.7M200.6 305.1h1.7M192.7 324.5h1.7M208.4 319.5h1.7M195.8 331.3h1.7M192.2 317.2h1.7M197.5 303.2h1.7M193.8 291.6h1.7M187.7 311.6h1.7M191.0 269.7h1.7M205.1 313.4h1.7M211.7 291.5h1.7M175.2 301.7h1.7M191.1 322.0h1.7M198.0 315.0h1.7M190.4 308.2h1.7M189.6 272.8h1.7M205.5 339.9h1.7M198.1 273.1h1.7M181.6 316.9h1.7M212.2 297.1h1.7M208.1 363.4h1.7M188.9 309.0h1.7M206.1 318.8h1.7M186.9 298.0h1.7M209.7 310.0h1.7M193.2 335.0h1.7M186.1 292.6h1.7M191.3 297.7h1.7M186.5 299.7h1.7M198.3 291.3h1.7M198.0 289.5h1.7M196.3 312.3h1.7M189.1 339.4h1.7M151.1 340.0h1.7M197.0 284.4h1.7M172.7 297.4h1.7M198.9 309.8h1.7M209.8 320.7h1.7M199.3 311.2h1.7M191.1 311.3h1.7M193.7 318.7h1.7M194.3 326.0h1.7M189.2 267.9h1.7M188.7 307.2h1.7M184.6 324.1h1.7M210.5 338.3h1.7M195.7 326.6h1.7M207.6 297.2h1.7M192.8 296.4h1.7M196.8 316.3h1.7M193.8 310.8h1.7M201.6 318.0h1.7M206.0 334.3h1.7M198.8 285.4h1.7M187.6 304.3h1.7M186.3 261.5h1.7M216.2 327.2h1.7M192.5 314.6h1.7M192.3 293.9h1.7M213.8 316.8h1.7M209.2 340.0h1.7M202.4 331.1h1.7M191.0 309.8h1.7M224.7 304.9h1.7M200.7 313.8h1.7M202.6 291.4h1.7M193.8 291.7h1.7M178.6 305.3h1.7M179.5 311.3h1.7M200.9 317.0h1.7M200.7 300.6h1.7M193.0 293.2h1.7M181.5 310.6h1.7M178.2 302.7h1.7M191.9 318.4h1.7M178.1 340.5h1.7M206.9 332.2h1.7M210.0 296.3h1.7M230.6 302.8h1.7M206.7 279.5h1.7M188.6 310.7h1.7M185.2 294.3h1.7M153.6 285.0h1.7M188.6 291.6h1.7M193.7 324.2h1.7M207.8 315.6h1.7M203.4 309.2h1.7M203.1 331.9h1.7M198.5 302.2h1.7M204.0 291.0h1.7M213.6 321.6h1.7M182.9 271.8h1.7M190.3 317.7h1.7M178.9 316.0h1.7M215.7 316.7h1.7M211.8 326.2h1.7M205.1 303.3h1.7M181.2 311.4h1.7M198.0 278.1h1.7M193.0 299.5h1.7M196.9 300.9h1.7M193.6 316.3h1.7M202.3 340.6h1.7M191.1 313.7h1.7M206.4 329.1h1.7M198.9 292.5h1.7M192.3 312.5h1.7M194.5 278.0h1.7M190.5 296.9h1.7M205.9 294.9h1.7M192.6 307.1h1.7M199.5 307.6h1.7M191.1 298.6h1.7M177.7 293.1h1.7M207.0 326.3h1.7M182.9 301.8h1.7M204.2 258.6h1.7M201.0 313.7h1.7M175.6 317.0h1.7M184.3 325.9h1.7M189.6 341.3h1.7M185.8 287.7h1.7M181.4 310.6h1.7M205.0 305.7h1.7M193.0 274.4h1.7M200.6 260.9h1.7M190.6 329.9h1.7M199.6 290.4h1.7M186.7 299.2h1.7M195.6 303.7h1.7M203.0 302.1h1.7M196.5 312.3h1.7M190.3 279.5h1.7M182.6 299.3h1.7M198.0 304.8h1.7M200.1 286.4h1.7M192.7 293.6h1.7M186.5 302.4h1.7M202.5 305.1h1.7M226.3 276.1h1.7M192.2 301.4h1.7M200.0 313.6h1.7M200.5 329.2h1.7M164.5 318.8h1.7M197.4 333.1h1.7M187.2 309.6h1.7M212.9 306.6h1.7M192.8 353.4h1.7M186.4 311.4h1.7M193.2 298.6h1.7M197.9 308.4h1.7M189.0 331.2h1.7M195.3 286.0h1.7M179.3 325.9h1.7M193.1 336.7h1.7M205.4 333.7h1.7M220.0 312.1h1.7M204.6 291.8h1.7M199.2 288.1h1.7M210.4 307.5h1.7M208.4 336.0h1.7M216.3 325.1h1.7M209.2 330.0h1.7M194.5 315.4h1.7M199.1 347.8h1.7M198.1 309.5h1.7M199.6 298.7h1.7M198.4 314.8h1.7M186.3 302.5h1.7M170.1 330.9h1.7M187.7 341.4h1.7M171.1 324.8h1.7M196.7 288.3h1.7M196.0 290.9h1.7M175.4 321.1h1.7M204.3 287.4h1.7M206.5 318.4h1.7M197.1 281.1h1.7M216.3 302.0h1.7M218.8 321.0h1.7M181.1 295.7h1.7M208.6 327.6h1.7M201.3 330.8h1.7M201.0 341.3h1.7M207.3 306.6h1.7M187.1 312.9h1.7M188.6 313.4h1.7M185.8 320.2h1.7M186.7 282.6h1.7M194.7 320.4h1.7M178.1 326.5h1.7M183.1 286.5h1.7M203.0 283.0h1.7M195.0 305.0h1.7M200.6 347.2h1.7M172.8 324.0h1.7M186.3 299.4h1.7M189.1 311.5h1.7M196.3 280.3h1.7M188.7 339.6h1.7M207.3 298.1h1.7M195.2 324.6h1.7M196.1 285.0h1.7M196.1 313.4h1.7M204.6 290.9h1.7M190.1 325.0h1.7M209.6 340.5h1.7M201.5 334.4h1.7M197.8 324.2h1.7M196.4 332.7h1.7M202.3 287.4h1.7M208.3 284.6h1.7M207.5 306.3h1.7M200.5 332.8h1.7M206.6 314.2h1.7M197.3 325.8h1.7M211.2 282.3h1.7M195.6 305.4h1.7M170.5 301.9h1.7M212.3 320.0h1.7M197.2 352.7h1.7M181.6 327.5h1.7M193.5 334.5h1.7M185.1 304.3h1.7M221.6 309.9h1.7M202.0 328.1h1.7M176.7 319.7h1.7M202.6 280.0h1.7M191.0 331.3h1.7M219.4 330.5h1.7M183.0 316.5h1.7M168.4 326.0h1.7M196.7 320.5h1.7M191.6 301.0h1.7M190.8 276.6h1.7M169.7 348.0h1.7M201.1 312.2h1.7M216.4 311.0h1.7M172.5 313.5h1.7M210.2 315.6h1.7M188.9 318.8h1.7M224.7 291.4h1.7M201.2 321.3h1.7M193.6 314.4h1.7M209.4 311.8h1.7M202.3 309.7h1.7M188.6 315.3h1.7M204.6 291.5h1.7M189.6 312.0h1.7M174.0 308.3h1.7M220.8 312.9h1.7M191.6 332.2h1.7M188.4 328.7h1.7M200.0 333.2h1.7M176.8 307.9h1.7M179.3 326.3h1.7M189.8 333.4h1.7M189.5 307.0h1.7M196.8 301.2h1.7M209.7 347.6h1.7M190.1 277.5h1.7M201.9 311.2h1.7M203.3 314.0h1.7M182.6 290.2h1.7M198.7 310.4h1.7M184.4 324.1h1.7M208.9 267.2h1.7M201.5 333.7h1.7M196.1 313.8h1.7M179.5 294.6h1.7M197.3 333.6h1.7M186.5 313.9h1.7M204.5 304.0h1.7M194.4 263.0h1.7M185.9 330.0h1.7M207.2 312.8h1.7M204.7 298.5h1.7M188.6 310.2h1.7M210.1 336.3h1.7M192.2 303.5h1.7M192.1 309.6h1.7M197.4 302.8h1.7M186.7 288.8h1.7M190.5 291.2h1.7M193.9 303.6h1.7M214.6 305.5h1.7M214.3 334.2h1.7M192.7 314.6h1.7M215.6 307.4h1.7M195.4 320.0h1.7M200.6 309.9h1.7M206.7 328.6h1.7M199.5 280.7h1.7M225.5 268.1h1.7M198.9 319.7h1.7M181.2 303.7h1.7M211.9 316.6h1.7M190.9 286.2h1.7M192.2 303.0h1.7M159.3 310.3h1.7M208.2 316.4h1.7M205.9 309.3h1.7M205.7 332.2h1.7M207.9 298.1h1.7M216.6 326.3h1.7M195.3 301.0h1.7M207.4 309.2h1.7M186.8 289.6h1.7M191.6 312.2h1.7M208.8 291.0h1.7M200.7 330.6h1.7M179.6 299.5h1.7M200.3 316.4h1.7M193.7 307.9h1.7M185.9 310.4h1.7M201.2 292.8h1.7M190.9 352.9h1.7M176.7 305.3h1.7M182.3 342.2h1.7M217.6 287.3h1.7M177.3 351.9h1.7M198.6 332.2h1.7M203.4 345.8h1.7M203.7 278.5h1.7M180.9 338.0h1.7M192.0 309.5h1.7M197.6 322.7h1.7M205.7 348.4h1.7M188.0 318.7h1.7M181.6 298.4h1.7" stroke="#000" stroke-width="1.7" fill="none"/>
<polyline points="159.80,294.96 160.92,295.97 162.04,296.96 163.16,297.90 164.27,298.82 165.39,299.71 166.51,300.56 167.63,301.38 168.75,302.17 169.87,302.92 170.99,303.65 172.11,304.34 173.22,305.00 174.34,305.63 175.46,306.22 176.58,306.78 177.70,307.31 178.82,307.81 179.94,308.27 181.05,308.71 182.17,309.11 183.29,309.48 184.41,309.81 185.53,310.12 186.65,310.39 187.77,310.63 188.88,310.84 190.00,311.01 191.12,311.15 192.24,311.26 193.36,311.34 194.48,311.39 195.60,311.40 196.72,311.38 197.83,311.33 198.95,311.25 200.07,311.13 201.19,310.98 202.31,310.80 203.43,310.59 204.55,310.34 205.66,310.07 206.78,309.76 207.90,309.42 209.02,309.04 210.14,308.64 211.26,308.20 212.38,307.73 213.49,307.22 214.61,306.69 215.73,306.12 216.85,305.52 217.97,304.89 219.09,304.22 220.21,303.53 221.33,302.80 222.44,302.03 223.56,301.24 224.68,300.41 225.80,299.56" fill="none" stroke="#FF0000" stroke-width="1.4"/>
<path d="M172.25 232.5v-1.6M172.25 387.5v1.6M196.75 232.5v-1.6M196.75 387.5v1.6M221.25 232.5v-1.6M221.25 387.5v1.6" stroke="#262626" stroke-width="0.75"/>
<path d="M147.5 271.2h-1.6M246 271.2h1.6M147.5 309.9h-1.6M246 309.9h1.6M147.5 348.6h-1.6M246 348.6h1.6" stroke="#262626" stroke-width="0.75"/>
<text x="196.75" y="228.8" font-size="12.4" text-anchor="middle" font-weight="normal" fill="#262626" >ACCESS-ESM1-5</text>
<text x="154" y="249.6" font-size="15.4" fill="#000" class="k"><tspan font-family="Liberation Serif" font-style="italic" font-size="16.5">α</tspan> = 0.10</text>
<text x="172.25" y="410.2" font-size="14.5" text-anchor="middle" font-weight="normal" fill="#262626" >-2</text>
<text x="196.75" y="410.2" font-size="14.5" text-anchor="middle" font-weight="normal" fill="#262626" >0</text>
<text x="221.25" y="410.2" font-size="14.5" text-anchor="middle" font-weight="normal" fill="#262626" >2</text>
<path d="M293.9 307.3h1.7M304.3 308.9h1.7M292.3 314.2h1.7M295.7 276.4h1.7M292.1 298.6h1.7M298.8 269.6h1.7M313.1 300.4h1.7M299.0 333.7h1.7M297.4 284.3h1.7M289.9 303.0h1.7M288.7 301.0h1.7M309.1 273.1h1.7M285.4 301.4h1.7M287.2 279.3h1.7M294.7 297.4h1.7M291.7 309.0h1.7M313.6 289.5h1.7M273.9 306.6h1.7M298.9 278.3h1.7M302.2 282.5h1.7M285.3 296.4h1.7M289.7 287.9h1.7M299.6 288.6h1.7M310.6 301.6h1.7M287.2 283.5h1.7M281.1 300.8h1.7M304.6 287.8h1.7M309.6 312.0h1.7M292.5 295.7h1.7M275.3 290.9h1.7M309.0 309.5h1.7M293.8 303.7h1.7M306.0 305.5h1.7M295.2 286.0h1.7M292.2 308.4h1.7M291.5 290.5h1.7M309.2 273.7h1.7M308.8 291.7h1.7M276.0 322.2h1.7M287.0 295.3h1.7M312.0 281.1h1.7M292.3 301.7h1.7M283.1 280.1h1.7M295.7 287.6h1.7M294.6 290.7h1.7M294.7 301.3h1.7M291.2 305.1h1.7M292.8 301.2h1.7M291.4 296.2h1.7M298.7 289.1h1.7M288.2 290.7h1.7M293.0 301.8h1.7M294.3 296.2h1.7M307.6 291.2h1.7M299.1 322.3h1.7M294.6 309.0h1.7M300.6 309.5h1.7M299.4 300.3h1.7M305.6 301.4h1.7M300.3 301.1h1.7M312.1 310.6h1.7M308.0 286.7h1.7M295.2 292.8h1.7M291.8 322.5h1.7M303.7 296.9h1.7M300.4 314.5h1.7M294.8 270.7h1.7M282.1 304.1h1.7M278.8 303.2h1.7M298.8 295.8h1.7M302.7 300.2h1.7M303.0 298.0h1.7M283.8 273.1h1.7M305.2 293.6h1.7M290.7 284.1h1.7M299.2 279.6h1.7M299.5 312.2h1.7M288.3 270.9h1.7M290.2 286.4h1.7M276.6 282.2h1.7M287.2 310.4h1.7M279.1 284.4h1.7M299.6 290.6h1.7M296.2 305.4h1.7M298.9 288.3h1.7M289.8 300.7h1.7M298.8 294.0h1.7M292.0 282.9h1.7M301.2 279.5h1.7M298.5 288.0h1.7M286.5 278.2h1.7M295.6 274.3h1.7M296.1 316.1h1.7M292.8 304.5h1.7M303.8 311.6h1.7M311.4 295.5h1.7M292.2 274.7h1.7M292.4 286.9h1.7M275.0 313.2h1.7M294.4 301.6h1.7M291.6 281.1h1.7M275.8 305.2h1.7M298.3 298.5h1.7M301.1 292.3h1.7M288.9 325.2h1.7M292.2 284.9h1.7M286.7 291.7h1.7M302.6 288.2h1.7M281.7 312.2h1.7M292.7 308.9h1.7M313.6 306.3h1.7M296.1 293.1h1.7M299.9 295.9h1.7M294.3 295.0h1.7M284.8 269.3h1.7M295.3 276.8h1.7M299.4 308.1h1.7M286.2 307.1h1.7M298.8 270.5h1.7M307.1 301.9h1.7M305.5 275.7h1.7M281.1 272.3h1.7M286.7 305.4h1.7M280.8 301.2h1.7M305.5 295.7h1.7M301.2 310.4h1.7M302.1 312.2h1.7M287.6 303.2h1.7M284.9 283.8h1.7M296.3 303.9h1.7M296.6 300.2h1.7M287.8 304.2h1.7M296.9 318.1h1.7M301.5 274.0h1.7M297.7 333.3h1.7M286.1 307.1h1.7M276.2 288.4h1.7M293.2 318.6h1.7M297.1 287.7h1.7M293.2 277.6h1.7M291.7 310.3h1.7M289.3 293.8h1.7M302.2 314.2h1.7M295.1 289.2h1.7M296.8 295.7h1.7M286.7 293.7h1.7M289.9 275.9h1.7M297.1 289.7h1.7M286.4 276.2h1.7M284.1 287.2h1.7M292.6 315.6h1.7M306.7 293.0h1.7M297.4 289.4h1.7M309.0 319.4h1.7M294.4 276.4h1.7M292.8 296.0h1.7M282.8 291.3h1.7M290.3 310.9h1.7M308.8 295.9h1.7M298.6 292.4h1.7M302.4 302.1h1.7M302.1 295.8h1.7M295.5 329.8h1.7M293.7 275.9h1.7M296.7 314.3h1.7M301.8 330.8h1.7M299.8 311.9h1.7M300.1 310.0h1.7M297.0 288.6h1.7M288.6 311.2h1.7M293.2 292.6h1.7M287.0 311.9h1.7M276.3 288.6h1.7M293.6 266.8h1.7M317.6 312.7h1.7M292.5 286.8h1.7M285.2 311.8h1.7M295.5 288.1h1.7M307.5 286.6h1.7M294.2 321.7h1.7M301.3 314.6h1.7M296.5 315.1h1.7M292.2 320.3h1.7M324.6 308.4h1.7M296.3 311.9h1.7M290.7 319.4h1.7M291.1 295.6h1.7M299.1 288.6h1.7M299.4 317.4h1.7M302.7 305.7h1.7M296.9 297.0h1.7M282.5 300.7h1.7M300.5 308.0h1.7M292.8 284.6h1.7M293.0 284.0h1.7M282.0 286.6h1.7M290.4 300.4h1.7M288.9 266.4h1.7M295.3 270.2h1.7M282.3 303.4h1.7M296.1 299.0h1.7M296.8 278.7h1.7M285.3 309.5h1.7M289.9 291.0h1.7M287.7 296.4h1.7M304.0 308.0h1.7M272.4 300.7h1.7M292.5 321.5h1.7M280.4 305.6h1.7M291.7 328.1h1.7M289.8 273.9h1.7M296.9 278.2h1.7M287.9 292.5h1.7M313.4 281.7h1.7M304.0 277.5h1.7M306.0 281.5h1.7M283.4 283.0h1.7M285.5 311.3h1.7M305.5 290.6h1.7M293.8 305.5h1.7M293.3 315.5h1.7M298.7 314.9h1.7M284.1 290.6h1.7M302.7 280.9h1.7M295.8 318.4h1.7M300.0 270.2h1.7M289.5 274.5h1.7M300.3 303.1h1.7M289.1 304.4h1.7M304.4 298.4h1.7M306.0 282.1h1.7M304.0 303.2h1.7M300.4 314.4h1.7M301.4 292.0h1.7M270.8 329.3h1.7M303.3 295.1h1.7M293.1 279.4h1.7M296.5 292.6h1.7M293.0 285.2h1.7M282.8 289.7h1.7M290.7 286.0h1.7M301.7 295.1h1.7M308.6 310.2h1.7M289.9 300.8h1.7M287.3 298.5h1.7M309.0 277.8h1.7M287.5 272.1h1.7M314.7 290.8h1.7M296.1 309.0h1.7M287.5 308.6h1.7M304.7 300.2h1.7M311.2 275.8h1.7M282.4 292.1h1.7M309.9 298.2h1.7M293.0 309.2h1.7M309.3 283.7h1.7M292.1 292.8h1.7M281.1 298.1h1.7M300.2 295.7h1.7M304.1 271.2h1.7M314.9 299.8h1.7M302.0 278.1h1.7M293.4 296.5h1.7M290.8 283.6h1.7M292.9 299.2h1.7M288.0 310.1h1.7M293.1 301.5h1.7M272.2 311.4h1.7M297.3 289.4h1.7M295.4 297.1h1.7M319.2 288.5h1.7M302.6 284.5h1.7M291.2 345.6h1.7M300.8 292.5h1.7M284.4 325.2h1.7M290.1 294.7h1.7M278.5 310.9h1.7M308.8 295.7h1.7M301.1 276.2h1.7M284.8 323.8h1.7M295.1 294.4h1.7M304.4 298.5h1.7M300.2 326.6h1.7M299.1 287.3h1.7M287.7 296.8h1.7M289.8 305.2h1.7M296.5 308.5h1.7M288.0 303.4h1.7M285.3 325.2h1.7M306.1 311.7h1.7M287.1 303.0h1.7M305.5 303.3h1.7M297.9 298.5h1.7M303.7 313.5h1.7M311.7 288.9h1.7M302.0 304.8h1.7M302.8 318.4h1.7M287.2 309.9h1.7M289.2 303.3h1.7M301.5 284.2h1.7M309.7 289.8h1.7M308.4 302.6h1.7M316.9 297.0h1.7M298.5 294.0h1.7M297.5 265.8h1.7M304.9 306.9h1.7M295.8 290.1h1.7M295.1 286.1h1.7M286.0 312.1h1.7M304.7 294.4h1.7M285.8 294.8h1.7M300.3 304.6h1.7M282.6 288.5h1.7M305.7 281.4h1.7M286.2 279.8h1.7M303.4 300.3h1.7M281.0 294.4h1.7M306.5 314.4h1.7M288.2 293.9h1.7M296.2 283.5h1.7M291.2 295.0h1.7M274.4 287.2h1.7M298.5 294.6h1.7M299.6 285.7h1.7M285.4 277.5h1.7M300.9 300.7h1.7M288.3 294.3h1.7M286.4 298.2h1.7M295.7 303.6h1.7M289.4 297.6h1.7M316.7 314.8h1.7M281.3 285.8h1.7M302.4 271.0h1.7M304.7 270.9h1.7M277.4 277.6h1.7M279.7 312.2h1.7M300.8 273.8h1.7M291.2 308.4h1.7M299.1 298.1h1.7M306.1 268.7h1.7M292.2 313.9h1.7M285.8 284.3h1.7M270.5 293.0h1.7M297.5 299.7h1.7M287.1 310.9h1.7M298.5 290.8h1.7M297.8 304.5h1.7M282.9 281.1h1.7M311.5 278.4h1.7M305.6 318.7h1.7M303.4 305.1h1.7M284.7 302.3h1.7M291.9 315.6h1.7M290.6 314.6h1.7M291.8 295.9h1.7M285.3 300.5h1.7M299.6 322.9h1.7M297.7 305.7h1.7M299.0 289.3h1.7M291.0 316.0h1.7M307.5 311.6h1.7M297.3 272.7h1.7M289.7 322.4h1.7M295.1 318.2h1.7M304.5 291.5h1.7M292.9 315.8h1.7M293.3 301.2h1.7M289.5 304.3h1.7M301.7 288.7h1.7M291.5 336.5h1.7M290.1 331.4h1.7M288.8 316.3h1.7M300.7 281.6h1.7M290.7 299.7h1.7M280.2 323.8h1.7M301.3 289.7h1.7M289.2 286.4h1.7M298.9 301.1h1.7M299.1 302.4h1.7M306.7 290.5h1.7M305.2 278.6h1.7M290.3 295.0h1.7M294.1 289.1h1.7M283.8 298.1h1.7M311.0 303.2h1.7M299.7 311.5h1.7M308.4 293.4h1.7M292.7 302.0h1.7M276.8 301.1h1.7M309.7 282.9h1.7M296.5 289.8h1.7M296.8 283.9h1.7M296.1 321.7h1.7M301.5 288.7h1.7M300.5 306.5h1.7M281.0 309.8h1.7M305.6 310.5h1.7M290.8 278.6h1.7M291.3 284.5h1.7M311.5 308.4h1.7M304.1 314.9h1.7M292.5 297.1h1.7M278.6 304.4h1.7M297.1 271.6h1.7M300.6 319.9h1.7M294.9 325.6h1.7M284.2 301.3h1.7M288.4 297.2h1.7M284.1 295.3h1.7M297.6 285.7h1.7M303.2 265.2h1.7M305.0 302.6h1.7M288.9 305.7h1.7M297.8 324.6h1.7M300.7 293.6h1.7M290.9 284.1h1.7M294.3 301.4h1.7M315.1 279.0h1.7M297.5 296.9h1.7M303.7 273.9h1.7M291.6 292.2h1.7M296.0 313.7h1.7M279.9 307.2h1.7M295.4 321.1h1.7M306.6 324.2h1.7M314.9 293.2h1.7M306.6 283.9h1.7M301.9 267.1h1.7M296.1 298.2h1.7M290.1 301.0h1.7M294.2 314.5h1.7M301.3 282.0h1.7M288.4 291.3h1.7M304.2 306.5h1.7M286.6 286.7h1.7M279.3 288.6h1.7M286.3 326.3h1.7M280.3 285.8h1.7M283.0 295.2h1.7M306.0 303.4h1.7M293.8 303.8h1.7M297.6 270.3h1.7M306.3 273.5h1.7M307.2 269.1h1.7M291.0 315.1h1.7M307.8 307.5h1.7M299.2 283.3h1.7M295.7 316.0h1.7M299.7 308.5h1.7M282.5 325.3h1.7M288.4 268.6h1.7M294.6 280.9h1.7M301.2 290.2h1.7M292.2 293.9h1.7M294.5 303.8h1.7M304.5 303.5h1.7M308.6 287.8h1.7M302.7 308.3h1.7M307.3 278.3h1.7M291.9 304.9h1.7M292.8 310.8h1.7M298.5 277.2h1.7M292.9 299.6h1.7M291.0 288.7h1.7M310.8 303.7h1.7M293.8 332.2h1.7M286.7 288.9h1.7M300.1 318.2h1.7M312.5 280.6h1.7M296.4 321.3h1.7M306.9 326.2h1.7M291.6 292.6h1.7M291.1 290.7h1.7M289.3 295.7h1.7M294.3 316.1h1.7M312.5 283.6h1.7M285.0 320.0h1.7M310.7 304.5h1.7M286.4 309.5h1.7M293.5 303.2h1.7M303.3 284.1h1.7M301.4 307.1h1.7M298.2 288.6h1.7M280.5 286.6h1.7M299.0 323.8h1.7M286.2 315.4h1.7M319.2 303.3h1.7M293.7 306.5h1.7M297.4 292.6h1.7M285.1 327.2h1.7M291.2 286.2h1.7M283.8 285.8h1.7M304.6 299.9h1.7M293.2 318.7h1.7M300.8 297.2h1.7M289.3 305.6h1.7M291.0 288.6h1.7M307.5 298.6h1.7M286.7 286.0h1.7M279.1 304.0h1.7M299.4 275.0h1.7M285.1 333.0h1.7M291.6 313.1h1.7M304.0 289.7h1.7M288.1 320.7h1.7M303.7 285.9h1.7M289.4 316.2h1.7M309.3 295.9h1.7M307.8 311.5h1.7M291.3 304.2h1.7M293.7 294.6h1.7M288.0 298.9h1.7M297.5 303.2h1.7M282.3 297.2h1.7M304.1 312.3h1.7M283.5 283.0h1.7M287.7 284.6h1.7M279.2 278.4h1.7M296.2 311.9h1.7M297.9 280.9h1.7M289.4 279.7h1.7M305.4 297.3h1.7M276.3 293.5h1.7M295.9 343.8h1.7M315.9 306.2h1.7M292.1 269.6h1.7M295.8 325.0h1.7M301.8 305.6h1.7M288.2 292.9h1.7M295.8 288.4h1.7M304.5 272.1h1.7M297.4 324.6h1.7M299.0 296.7h1.7M292.4 284.0h1.7M298.5 317.7h1.7M296.1 297.9h1.7M302.3 276.9h1.7M293.4 289.0h1.7M273.1 337.8h1.7M302.2 299.3h1.7M302.6 291.3h1.7M287.2 302.1h1.7M277.3 298.3h1.7M304.1 300.6h1.7M285.8 312.3h1.7M291.4 293.6h1.7M297.6 302.2h1.7M306.9 302.1h1.7M295.5 298.7h1.7M294.7 285.3h1.7M290.6 293.6h1.7M310.6 315.9h1.7M305.4 299.4h1.7M294.8 290.0h1.7M282.8 304.6h1.7M288.4 279.5h1.7M300.9 285.3h1.7M289.0 312.7h1.7M303.8 292.4h1.7M298.9 266.6h1.7M298.3 273.2h1.7M301.6 298.2h1.7M300.2 283.4h1.7M287.8 307.8h1.7M292.6 319.7h1.7M317.1 288.7h1.7M284.5 293.5h1.7M291.3 289.4h1.7M305.4 297.7h1.7M294.2 292.3h1.7M288.2 305.3h1.7M283.5 290.0h1.7M300.5 284.4h1.7M305.0 298.2h1.7M308.5 284.7h1.7M296.1 324.7h1.7M305.2 309.5h1.7M286.1 275.0h1.7M297.2 270.1h1.7M289.4 293.4h1.7M297.2 298.9h1.7M302.5 317.0h1.7M305.5 291.7h1.7M286.5 285.3h1.7M307.3 320.3h1.7M291.3 288.7h1.7M286.2 289.7h1.7M294.1 290.5h1.7M282.2 314.8h1.7M295.7 288.9h1.7M298.3 320.5h1.7M293.8 274.3h1.7M300.6 295.2h1.7M292.7 315.3h1.7M295.7 276.5h1.7M282.4 279.5h1.7M296.0 307.4h1.7M291.5 312.9h1.7M294.8 292.5h1.7M297.4 279.0h1.7M280.5 332.5h1.7M281.3 281.8h1.7M292.9 298.3h1.7M300.0 297.6h1.7M298.9 314.0h1.7M303.8 292.2h1.7M307.6 314.5h1.7M300.2 312.3h1.7M295.4 304.3h1.7M286.1 316.3h1.7M286.9 273.0h1.7M291.3 317.9h1.7M298.1 309.0h1.7M297.7 302.2h1.7M295.7 297.3h1.7M294.2 285.1h1.7M301.4 284.7h1.7M297.5 302.0h1.7M298.4 303.3h1.7M298.5 296.8h1.7M290.6 284.6h1.7M286.2 286.5h1.7M300.1 305.3h1.7M299.5 329.2h1.7M293.6 264.1h1.7M291.8 282.6h1.7M316.6 293.2h1.7M288.6 292.1h1.7M293.6 305.4h1.7M298.1 312.8h1.7M285.0 302.5h1.7M296.7 300.8h1.7M312.1 307.0h1.7M304.2 319.9h1.7M301.4 302.2h1.7M301.1 288.4h1.7M296.7 305.0h1.7M304.4 297.0h1.7M294.2 329.4h1.7M291.7 300.5h1.7M296.6 299.2h1.7M303.9 316.3h1.7M298.7 324.1h1.7M301.8 290.9h1.7M277.0 309.9h1.7M306.6 289.8h1.7M317.1 303.8h1.7M307.9 287.7h1.7M292.7 302.6h1.7M287.8 320.6h1.7M298.2 298.7h1.7M286.6 302.4h1.7M302.3 287.1h1.7M290.8 304.3h1.7M304.5 303.4h1.7M308.1 284.0h1.7M277.0 279.3h1.7M298.3 285.6h1.7M289.2 281.3h1.7M282.7 290.3h1.7M290.0 285.4h1.7M293.6 283.7h1.7M305.1 291.1h1.7M281.6 296.3h1.7M305.3 295.1h1.7M301.1 297.1h1.7M300.6 301.0h1.7M295.5 303.0h1.7M284.8 297.8h1.7M300.5 293.5h1.7M299.2 314.8h1.7M302.3 328.0h1.7M319.2 292.8h1.7M302.3 322.2h1.7M299.5 293.3h1.7M310.0 295.1h1.7M283.3 279.5h1.7M285.1 271.5h1.7M292.2 291.6h1.7M289.6 305.9h1.7M302.0 315.5h1.7M292.7 309.6h1.7M311.6 296.7h1.7M309.6 329.4h1.7M302.7 296.2h1.7M292.1 297.5h1.7M301.3 287.3h1.7M303.1 302.5h1.7M285.8 295.7h1.7M298.8 308.7h1.7M302.1 304.5h1.7M297.6 324.8h1.7M310.1 295.4h1.7M306.8 273.3h1.7M288.0 294.8h1.7M296.8 291.7h1.7M287.9 312.5h1.7M300.9 275.2h1.7M287.7 309.2h1.7M304.1 284.9h1.7M299.2 295.7h1.7M304.5 312.2h1.7M294.3 281.4h1.7M282.2 297.1h1.7M311.8 294.6h1.7M294.0 290.3h1.7M308.3 297.7h1.7M299.6 303.2h1.7M301.8 290.1h1.7M312.4 303.6h1.7M298.8 296.3h1.7M308.5 307.7h1.7M282.0 320.4h1.7M303.6 307.7h1.7M293.4 305.0h1.7M294.4 297.1h1.7M295.7 279.0h1.7M298.8 323.5h1.7M310.9 295.3h1.7M278.6 331.6h1.7M296.0 313.5h1.7M289.0 305.2h1.7M306.3 332.2h1.7M291.7 326.1h1.7M299.8 294.9h1.7M292.0 296.1h1.7M301.8 299.1h1.7M304.9 309.8h1.7M292.0 264.0h1.7M296.1 299.8h1.7M282.6 310.7h1.7M298.4 271.3h1.7M303.5 287.8h1.7M290.5 303.1h1.7M305.9 278.9h1.7M276.6 294.9h1.7M278.6 287.4h1.7M282.9 293.7h1.7M291.2 313.2h1.7M295.8 282.3h1.7M294.9 294.8h1.7M295.0 312.9h1.7M302.3 309.1h1.7M291.3 282.5h1.7M284.0 303.0h1.7M284.2 296.6h1.7M315.0 287.2h1.7M274.0 295.3h1.7M294.0 321.0h1.7M309.0 287.5h1.7M300.1 282.8h1.7M288.0 283.9h1.7M295.6 272.3h1.7M303.6 291.7h1.7M306.7 285.3h1.7M287.4 272.7h1.7M302.6 301.8h1.7M297.9 270.4h1.7M305.8 270.5h1.7M308.4 285.2h1.7M292.5 268.8h1.7M282.3 284.1h1.7M299.3 311.0h1.7M311.9 279.7h1.7M301.9 292.3h1.7M297.7 290.9h1.7M317.7 294.9h1.7M286.1 276.3h1.7M303.9 288.8h1.7M290.4 308.1h1.7M296.1 289.8h1.7M296.4 286.0h1.7M309.5 308.6h1.7M287.0 304.0h1.7M290.7 303.3h1.7M281.0 306.7h1.7M300.1 291.9h1.7M291.4 281.6h1.7M299.5 268.0h1.7M285.8 278.8h1.7M292.3 281.5h1.7M305.2 279.6h1.7M294.0 276.7h1.7M301.4 303.2h1.7M300.5 286.6h1.7M292.4 292.3h1.7M281.3 299.3h1.7M304.7 304.4h1.7M297.2 305.1h1.7M304.7 301.5h1.7M277.1 316.4h1.7M280.4 289.2h1.7M275.9 297.7h1.7M287.6 295.7h1.7M305.2 292.1h1.7M300.8 286.1h1.7M295.3 306.5h1.7M296.8 299.0h1.7M302.6 322.2h1.7M292.8 331.7h1.7M299.3 327.4h1.7M296.9 273.5h1.7M275.5 325.6h1.7M292.1 290.0h1.7M308.1 274.5h1.7M292.0 304.4h1.7M294.3 272.1h1.7M290.0 268.7h1.7M291.2 282.7h1.7M293.2 287.7h1.7M286.2 308.6h1.7M290.4 304.1h1.7M277.6 317.4h1.7M278.9 317.0h1.7M302.1 305.6h1.7M278.0 297.6h1.7M303.4 307.5h1.7M299.8 295.1h1.7M288.4 300.9h1.7M302.4 303.5h1.7M280.7 315.9h1.7M284.6 319.0h1.7M282.4 308.7h1.7M285.4 292.6h1.7M303.7 265.0h1.7M283.4 280.8h1.7M285.0 268.9h1.7M286.9 289.6h1.7M297.4 298.4h1.7M292.5 317.6h1.7M303.5 297.0h1.7M289.1 330.3h1.7M283.8 301.7h1.7M291.0 271.9h1.7M295.9 292.0h1.7M287.0 279.6h1.7M298.1 302.9h1.7M312.3 318.3h1.7M290.2 304.4h1.7M296.0 303.1h1.7M308.0 278.3h1.7M289.6 266.4h1.7M287.7 308.4h1.7M285.5 302.5h1.7M299.2 299.2h1.7M300.2 302.4h1.7M294.1 316.2h1.7M295.9 295.5h1.7M307.2 291.3h1.7M303.4 291.0h1.7M282.6 315.6h1.7M295.4 298.7h1.7M296.4 323.9h1.7M302.0 282.8h1.7M293.4 312.7h1.7M289.5 301.2h1.7M291.2 303.9h1.7M279.1 305.9h1.7M295.1 313.3h1.7M289.9 324.3h1.7M299.7 270.1h1.7M285.9 292.9h1.7M291.3 292.8h1.7M285.5 298.4h1.7M301.8 288.3h1.7M291.0 296.5h1.7M299.4 278.5h1.7M285.0 289.1h1.7M296.2 292.0h1.7M279.8 300.8h1.7M290.9 292.5h1.7M290.7 278.8h1.7M300.6 329.0h1.7M296.9 298.8h1.7M293.6 303.3h1.7M302.9 301.5h1.7M297.0 327.4h1.7M300.2 285.5h1.7M302.3 309.9h1.7M294.6 300.3h1.7M292.5 304.6h1.7M298.2 322.7h1.7M291.4 303.7h1.7M298.8 325.3h1.7M305.4 311.4h1.7M303.1 301.7h1.7M291.7 296.9h1.7M283.4 296.0h1.7M294.7 298.9h1.7M294.1 263.7h1.7M305.4 290.1h1.7M291.7 315.7h1.7M293.3 306.3h1.7M301.9 307.0h1.7M290.8 299.6h1.7M293.7 306.1h1.7M310.9 310.1h1.7M308.9 271.3h1.7M301.0 296.1h1.7M297.7 302.0h1.7M286.3 300.7h1.7M300.3 300.2h1.7M295.7 275.2h1.7M297.2 289.4h1.7M290.4 279.4h1.7M295.1 345.1h1.7M293.5 291.7h1.7M298.1 280.4h1.7M298.5 296.3h1.7M280.0 323.4h1.7M286.3 287.7h1.7M280.7 306.1h1.7M287.9 324.5h1.7M300.3 306.4h1.7M298.9 280.4h1.7M289.7 278.2h1.7M297.6 285.6h1.7M288.2 313.0h1.7M282.3 314.9h1.7M287.3 298.0h1.7M308.2 319.1h1.7M282.9 276.4h1.7M306.6 289.8h1.7M307.4 283.0h1.7M293.5 295.3h1.7M294.7 297.8h1.7M289.6 294.0h1.7M294.9 326.0h1.7M301.2 281.3h1.7M295.2 282.6h1.7M304.3 302.8h1.7M306.0 296.9h1.7M298.3 292.1h1.7M298.2 272.4h1.7M294.6 290.0h1.7M298.3 296.0h1.7M284.9 304.6h1.7M298.9 320.0h1.7M297.0 305.9h1.7M287.2 295.6h1.7M314.9 300.6h1.7M286.2 295.5h1.7M287.2 285.1h1.7M297.7 289.9h1.7M277.4 292.4h1.7M287.9 286.5h1.7M281.2 293.7h1.7M286.3 297.1h1.7M293.9 289.3h1.7M298.1 323.4h1.7M305.3 277.2h1.7M302.5 316.6h1.7M306.0 283.6h1.7M300.5 296.4h1.7M290.8 279.4h1.7M305.4 296.0h1.7M290.7 311.2h1.7M289.5 280.0h1.7M309.2 293.7h1.7M302.4 294.7h1.7M297.1 295.3h1.7M302.0 281.1h1.7M303.2 283.9h1.7M282.6 293.0h1.7M294.3 320.5h1.7M284.3 302.8h1.7M296.2 294.9h1.7M289.0 268.7h1.7M307.6 290.6h1.7M299.9 297.9h1.7M287.7 278.0h1.7M294.9 298.2h1.7M284.0 296.9h1.7M295.5 294.1h1.7M300.1 319.7h1.7M297.5 281.7h1.7M277.4 289.9h1.7M292.0 300.9h1.7M299.8 314.2h1.7M297.9 293.2h1.7M305.8 274.8h1.7M283.3 306.4h1.7M299.9 312.9h1.7M289.1 290.0h1.7M296.9 321.2h1.7M298.8 330.8h1.7M301.4 303.3h1.7M289.8 307.1h1.7M296.8 300.7h1.7M284.4 305.0h1.7M282.1 291.3h1.7M300.2 299.9h1.7M294.6 305.7h1.7M280.2 303.5h1.7M287.3 286.7h1.7M295.3 281.6h1.7M309.4 282.4h1.7M304.7 285.6h1.7M302.4 347.5h1.7M278.7 311.9h1.7M294.2 301.3h1.7M299.5 293.2h1.7M298.7 321.5h1.7M298.9 274.4h1.7M292.9 291.7h1.7M311.2 306.0h1.7M308.6 293.9h1.7M294.2 301.8h1.7M286.1 308.2h1.7M314.0 288.6h1.7M290.0 303.4h1.7M306.1 318.2h1.7M312.6 306.2h1.7M286.4 298.2h1.7M297.8 313.1h1.7M291.9 276.9h1.7M299.8 313.2h1.7M298.0 269.2h1.7M313.0 282.5h1.7M300.5 310.9h1.7M295.0 294.3h1.7M305.4 278.1h1.7M292.6 299.3h1.7M291.7 314.8h1.7M315.6 294.6h1.7M287.5 265.5h1.7M290.6 319.4h1.7M295.5 287.7h1.7M285.4 296.2h1.7M275.7 298.1h1.7M304.8 302.3h1.7M287.9 301.2h1.7M290.1 280.2h1.7M291.7 287.1h1.7M286.1 311.7h1.7M285.2 272.1h1.7M296.6 316.4h1.7M317.1 286.0h1.7M301.9 293.4h1.7M301.9 277.7h1.7M281.3 290.7h1.7M294.9 279.9h1.7M284.2 296.6h1.7M302.2 281.2h1.7M293.0 290.9h1.7M295.4 263.0h1.7M294.3 307.0h1.7M289.7 277.7h1.7M281.1 289.0h1.7M300.4 293.5h1.7M282.4 305.0h1.7M284.2 289.3h1.7M292.3 319.0h1.7M288.6 317.4h1.7M297.5 285.2h1.7M304.4 320.3h1.7M297.4 273.9h1.7M296.9 300.4h1.7M295.3 292.3h1.7M303.0 295.0h1.7M278.1 289.7h1.7M298.5 300.5h1.7M286.5 301.9h1.7M283.8 298.1h1.7M295.1 279.9h1.7M291.5 278.6h1.7M300.4 276.4h1.7M305.2 290.5h1.7M273.7 299.3h1.7M294.4 322.2h1.7M313.1 286.2h1.7M303.1 283.1h1.7M308.4 302.4h1.7M296.0 283.7h1.7M281.9 276.2h1.7M284.7 294.7h1.7M301.6 279.8h1.7M303.9 291.4h1.7M288.4 323.0h1.7M292.6 303.5h1.7M297.5 302.5h1.7M279.0 287.9h1.7M291.9 309.5h1.7M310.0 302.9h1.7M315.2 311.0h1.7M294.1 296.7h1.7M311.9 295.1h1.7M290.3 281.0h1.7M287.6 283.8h1.7M274.5 293.6h1.7M303.9 292.4h1.7M291.6 294.4h1.7M316.6 294.4h1.7M298.1 272.2h1.7M296.8 334.6h1.7M278.5 298.8h1.7M308.9 291.3h1.7M291.8 278.6h1.7M293.6 313.1h1.7M274.8 290.8h1.7M303.6 282.8h1.7M304.2 303.0h1.7M289.5 325.7h1.7M296.0 301.7h1.7M298.7 314.7h1.7M303.9 286.1h1.7M296.1 309.3h1.7M292.9 293.9h1.7M289.5 308.6h1.7M290.8 303.9h1.7M271.8 313.0h1.7M287.7 290.1h1.7M304.4 273.0h1.7M297.5 299.5h1.7M287.6 281.8h1.7M298.3 310.7h1.7M276.6 291.4h1.7M299.9 317.9h1.7M301.5 277.1h1.7M288.0 278.0h1.7M303.5 325.2h1.7M312.3 318.3h1.7M291.2 311.2h1.7M301.9 281.1h1.7M280.8 302.8h1.7M277.1 298.7h1.7M300.8 285.2h1.7M295.5 294.3h1.7M297.0 292.6h1.7M289.8 301.1h1.7M292.4 278.7h1.7M302.6 308.2h1.7M293.2 301.4h1.7M280.0 308.5h1.7M306.9 286.1h1.7M300.7 289.2h1.7M301.4 326.8h1.7M296.8 292.7h1.7M316.5 317.1h1.7M295.8 309.0h1.7M299.9 284.0h1.7M278.1 309.5h1.7M289.8 290.7h1.7M288.8 302.1h1.7M294.9 266.3h1.7M298.4 297.7h1.7M288.3 314.4h1.7M311.1 313.3h1.7M285.4 310.2h1.7M291.0 294.2h1.7M297.3 296.3h1.7M283.7 281.2h1.7M300.4 293.7h1.7M301.0 294.3h1.7M292.5 291.2h1.7M312.7 298.3h1.7M295.9 291.7h1.7M297.7 284.2h1.7M286.3 284.2h1.7M279.8 304.7h1.7M289.4 323.7h1.7M292.2 308.8h1.7M291.0 291.9h1.7M302.2 334.8h1.7M273.2 303.7h1.7M284.7 289.4h1.7M278.4 305.1h1.7M307.5 313.7h1.7M290.0 269.2h1.7M290.4 274.9h1.7M285.0 300.4h1.7M303.4 275.9h1.7M291.4 276.3h1.7M297.2 313.9h1.7M305.9 310.9h1.7M298.8 300.5h1.7M300.2 313.4h1.7M306.5 295.2h1.7M293.4 316.8h1.7M293.6 296.5h1.7M301.8 279.7h1.7M299.1 293.1h1.7M292.9 300.6h1.7M295.6 272.5h1.7M290.5 310.4h1.7M301.7 281.5h1.7M303.8 301.2h1.7M295.2 293.2h1.7M312.5 296.0h1.7M281.0 294.5h1.7M293.0 297.3h1.7M310.9 308.6h1.7M291.3 305.3h1.7M280.5 289.7h1.7M308.0 298.2h1.7M300.2 314.6h1.7M284.2 307.5h1.7M302.3 307.3h1.7M285.8 297.5h1.7M282.8 293.9h1.7M293.8 295.2h1.7M290.8 306.8h1.7M285.1 296.4h1.7M291.8 317.8h1.7M285.9 341.3h1.7M295.7 297.5h1.7M295.0 322.3h1.7M302.0 311.4h1.7M291.0 315.4h1.7M282.9 287.0h1.7M283.0 315.5h1.7M292.9 292.5h1.7M309.3 304.4h1.7M303.0 315.9h1.7M289.3 321.2h1.7M303.9 289.7h1.7M284.5 290.9h1.7M304.5 284.9h1.7M291.7 268.6h1.7M302.3 292.7h1.7M300.9 292.6h1.7M292.6 298.9h1.7M298.2 295.3h1.7M285.4 302.4h1.7M294.5 310.8h1.7M305.2 266.2h1.7M332.9 325.8h1.7M301.7 293.1h1.7M296.0 290.2h1.7M285.9 294.7h1.7M305.0 312.0h1.7M279.9 300.1h1.7M287.8 304.3h1.7M298.5 313.8h1.7M284.1 297.9h1.7M309.4 303.5h1.7M305.3 305.7h1.7M290.0 286.6h1.7M290.1 313.6h1.7M283.0 290.4h1.7M282.3 306.7h1.7M299.3 290.7h1.7M300.9 296.2h1.7M298.4 293.6h1.7M297.7 312.5h1.7M290.0 309.3h1.7M298.5 310.6h1.7M281.6 294.7h1.7M295.3 285.8h1.7M308.8 280.7h1.7M307.4 305.1h1.7M290.9 296.1h1.7M292.1 322.4h1.7M307.9 331.7h1.7M311.7 310.8h1.7M281.4 307.7h1.7M291.3 321.4h1.7M297.4 324.9h1.7M306.4 289.2h1.7M287.5 309.9h1.7M301.1 323.5h1.7M317.1 294.9h1.7M299.2 302.4h1.7M294.0 287.1h1.7M292.1 309.3h1.7M304.9 273.1h1.7M301.5 321.4h1.7M285.2 317.8h1.7M297.2 299.7h1.7M282.9 309.4h1.7M288.2 275.9h1.7M283.3 322.4h1.7M283.0 309.0h1.7M288.9 294.0h1.7M286.2 289.0h1.7M300.1 282.3h1.7M302.6 292.4h1.7M293.0 263.7h1.7M284.9 305.1h1.7M302.6 295.1h1.7M276.5 284.6h1.7M277.4 302.7h1.7M301.9 302.3h1.7M301.3 305.0h1.7M304.2 307.8h1.7M293.2 315.3h1.7M283.6 306.4h1.7M290.5 321.8h1.7M300.4 292.0h1.7M288.1 322.5h1.7M288.7 266.1h1.7M282.3 271.7h1.7M284.5 280.9h1.7M303.0 301.2h1.7M299.4 307.0h1.7M284.5 279.1h1.7M285.2 295.2h1.7M290.0 289.4h1.7M300.3 309.1h1.7M284.4 281.6h1.7M293.7 310.3h1.7M275.4 296.4h1.7M283.6 324.7h1.7M299.1 308.1h1.7M303.5 290.3h1.7M284.5 305.0h1.7M288.1 304.9h1.7M302.6 285.9h1.7M291.6 299.2h1.7M290.2 278.9h1.7M300.0 335.4h1.7M297.0 289.3h1.7M305.5 290.3h1.7M302.5 321.9h1.7M289.9 318.1h1.7M294.1 284.6h1.7M294.7 314.6h1.7M282.7 307.9h1.7M286.2 288.9h1.7M304.2 303.2h1.7M280.6 290.8h1.7M304.4 311.5h1.7M297.9 293.6h1.7M293.9 281.4h1.7M300.2 293.1h1.7M299.6 332.0h1.7M306.4 288.1h1.7M291.5 297.2h1.7M293.1 312.1h1.7M293.0 276.7h1.7M312.6 325.0h1.7M304.0 269.3h1.7M286.7 307.9h1.7M292.2 273.9h1.7M288.7 298.8h1.7M295.4 318.7h1.7M297.2 296.7h1.7M316.4 293.0h1.7M278.4 289.8h1.7M304.7 281.8h1.7M299.3 312.0h1.7M288.8 290.6h1.7M293.9 286.8h1.7M290.7 302.3h1.7M295.7 312.6h1.7M304.5 312.9h1.7M281.3 286.6h1.7M307.4 285.8h1.7M291.8 310.9h1.7M309.1 318.8h1.7M299.1 279.1h1.7M306.6 322.1h1.7M300.5 295.7h1.7M305.3 310.6h1.7M295.8 325.2h1.7M287.6 296.3h1.7M301.5 301.1h1.7M301.8 276.0h1.7M276.8 301.1h1.7M293.5 282.4h1.7M305.1 282.1h1.7M283.8 306.2h1.7M293.2 311.5h1.7M308.4 303.8h1.7M287.2 298.6h1.7M308.5 302.7h1.7M306.2 300.2h1.7M302.5 307.5h1.7M298.8 286.7h1.7M297.5 278.8h1.7M287.3 303.9h1.7M290.6 319.5h1.7M302.1 297.4h1.7M296.6 321.1h1.7M312.4 308.0h1.7M292.3 279.2h1.7M292.3 292.4h1.7M297.9 314.6h1.7M298.9 286.2h1.7M296.0 332.8h1.7M287.8 308.9h1.7M309.1 274.7h1.7M289.3 286.7h1.7M301.9 319.5h1.7M292.7 323.8h1.7M284.4 285.0h1.7M308.4 298.9h1.7M272.3 307.3h1.7M287.5 291.8h1.7M299.4 307.0h1.7M292.1 327.8h1.7M302.3 285.7h1.7M294.5 308.2h1.7M291.2 313.6h1.7M315.3 318.7h1.7M293.4 294.3h1.7M294.0 310.6h1.7M285.5 288.6h1.7M288.5 302.3h1.7M301.4 281.5h1.7M300.6 304.1h1.7M295.4 308.3h1.7M289.0 328.5h1.7M301.7 315.1h1.7M279.8 287.1h1.7M293.1 317.5h1.7M287.7 314.2h1.7M296.9 293.0h1.7M289.3 290.8h1.7M288.1 308.6h1.7M312.0 297.0h1.7M302.3 322.9h1.7M306.5 302.8h1.7M296.0 284.3h1.7M304.4 273.0h1.7M302.7 300.8h1.7M306.6 302.2h1.7M317.3 291.2h1.7M293.4 281.1h1.7M297.9 290.7h1.7M295.0 309.7h1.7M282.7 283.3h1.7M295.7 309.1h1.7M301.4 318.7h1.7M290.3 290.3h1.7M306.0 292.5h1.7M307.4 283.3h1.7M291.8 296.8h1.7M308.7 308.1h1.7M311.7 304.9h1.7M299.8 314.0h1.7M286.6 312.7h1.7M309.1 306.8h1.7M294.1 305.6h1.7M292.1 281.0h1.7M296.7 317.0h1.7M290.7 298.9h1.7M305.5 307.2h1.7M302.8 275.2h1.7M306.8 294.1h1.7M301.0 303.9h1.7M288.3 285.6h1.7M294.2 297.1h1.7M303.7 305.4h1.7M291.9 274.5h1.7M293.4 271.5h1.7M290.2 280.3h1.7M306.2 286.1h1.7M302.5 296.0h1.7M295.4 314.8h1.7M293.5 287.1h1.7M299.5 296.9h1.7M303.3 287.6h1.7M302.6 298.2h1.7M292.9 308.6h1.7M299.6 313.5h1.7M303.4 287.3h1.7M302.7 278.1h1.7M267.3 302.4h1.7M287.4 291.0h1.7M288.5 276.7h1.7M293.5 310.8h1.7M297.3 303.2h1.7M304.1 315.2h1.7M301.3 279.9h1.7M294.5 294.0h1.7M295.8 305.1h1.7M311.8 323.4h1.7M290.0 300.7h1.7M298.4 282.6h1.7M310.0 302.5h1.7M298.8 304.5h1.7M276.9 288.1h1.7M299.1 316.9h1.7M292.1 297.1h1.7M294.6 288.7h1.7M305.3 309.9h1.7M299.9 310.7h1.7M293.2 294.1h1.7M303.8 299.5h1.7M299.6 301.6h1.7M296.6 294.7h1.7M298.4 294.5h1.7M298.0 312.1h1.7M292.5 308.2h1.7M291.4 291.0h1.7M295.9 280.7h1.7M286.9 277.1h1.7M284.1 310.9h1.7M307.6 281.1h1.7M293.4 286.2h1.7M295.4 298.4h1.7M294.4 290.4h1.7M295.8 285.1h1.7M295.8 270.4h1.7M296.2 314.1h1.7M288.2 288.6h1.7M304.2 300.0h1.7M289.3 301.0h1.7M305.1 280.2h1.7M278.0 285.3h1.7M285.9 313.4h1.7M304.7 302.2h1.7M294.3 294.3h1.7M289.5 319.5h1.7M299.1 284.6h1.7M286.0 299.0h1.7M296.3 295.3h1.7M275.3 292.7h1.7M291.5 270.1h1.7M289.7 297.3h1.7M300.6 303.3h1.7M303.7 271.1h1.7M287.8 305.5h1.7M310.4 305.9h1.7M290.2 319.1h1.7M276.7 281.2h1.7M273.8 293.6h1.7M309.8 290.6h1.7M294.8 295.2h1.7M284.5 329.7h1.7M279.4 329.1h1.7M279.4 344.8h1.7M289.0 346.2h1.7M286.6 320.3h1.7M298.4 323.9h1.7M279.6 337.2h1.7M281.8 327.0h1.7M277.6 317.6h1.7M296.5 303.2h1.7M275.9 336.7h1.7M291.7 318.1h1.7M296.9 299.6h1.7M284.5 324.9h1.7M291.3 307.7h1.7M268.8 357.6h1.7M282.6 307.9h1.7M272.5 325.9h1.7M287.0 348.9h1.7M285.7 316.1h1.7M279.6 312.8h1.7M293.0 310.9h1.7M288.4 311.0h1.7M281.5 326.1h1.7M281.6 335.0h1.7M274.0 331.4h1.7M284.2 326.2h1.7M302.3 320.7h1.7M280.0 331.7h1.7M288.9 325.1h1.7M281.3 314.9h1.7M291.9 321.7h1.7M289.1 297.5h1.7M283.8 299.1h1.7M271.6 339.9h1.7M281.6 332.7h1.7M295.1 341.9h1.7M283.7 340.1h1.7M290.6 319.0h1.7M281.8 338.0h1.7M270.9 338.7h1.7M289.0 329.1h1.7M288.1 315.9h1.7M281.1 330.1h1.7M282.7 330.2h1.7M287.9 314.4h1.7M281.0 319.9h1.7M288.4 320.1h1.7M284.0 314.0h1.7M267.1 338.2h1.7M284.5 323.1h1.7M280.9 333.6h1.7M279.0 313.1h1.7M288.8 315.7h1.7M281.8 338.6h1.7M289.9 309.2h1.7M294.2 340.2h1.7M286.8 311.3h1.7M273.5 323.2h1.7M279.9 336.5h1.7M292.8 339.6h1.7M283.6 329.5h1.7M279.3 326.0h1.7M284.9 334.5h1.7M289.6 318.8h1.7M287.7 343.1h1.7M290.7 325.8h1.7M279.2 325.7h1.7M283.5 348.9h1.7M283.7 321.9h1.7M285.5 341.4h1.7M269.2 356.7h1.7M283.8 333.3h1.7M275.1 328.6h1.7M296.6 314.6h1.7M297.9 331.8h1.7M298.9 307.5h1.7M292.0 307.9h1.7M281.8 312.2h1.7M293.2 309.4h1.7M284.1 321.4h1.7M290.5 332.7h1.7M278.6 317.7h1.7M281.1 313.8h1.7M289.3 322.8h1.7M299.6 328.8h1.7M285.5 345.2h1.7M303.4 317.4h1.7M307.4 321.4h1.7M275.6 341.9h1.7M285.5 324.5h1.7M278.2 316.8h1.7M284.6 327.1h1.7M281.5 316.0h1.7M285.2 316.4h1.7M293.3 344.1h1.7M293.1 329.5h1.7M287.7 319.7h1.7M285.7 314.4h1.7M286.6 308.3h1.7M286.7 349.6h1.7M290.2 326.6h1.7M285.7 316.9h1.7M289.7 310.6h1.7M275.4 304.8h1.7M291.9 337.4h1.7M299.5 330.4h1.7M287.1 338.8h1.7M274.6 315.6h1.7M296.3 342.2h1.7M283.1 311.1h1.7M262.2 314.1h1.7M284.0 319.7h1.7M290.5 352.7h1.7M288.7 334.2h1.7M295.5 316.5h1.7M290.6 343.4h1.7M286.7 328.7h1.7M270.2 327.1h1.7M276.9 314.7h1.7M287.1 322.3h1.7M291.1 322.4h1.7M277.6 331.2h1.7M280.9 325.7h1.7M289.4 327.4h1.7M270.7 316.7h1.7M270.4 328.0h1.7M283.9 312.9h1.7M287.7 346.9h1.7M281.9 310.9h1.7M267.7 327.9h1.7M285.9 311.8h1.7M275.3 324.7h1.7M290.9 315.2h1.7M284.9 307.2h1.7M287.8 332.7h1.7M290.8 324.8h1.7M281.6 327.9h1.7M292.2 323.2h1.7M295.5 345.9h1.7M288.9 327.9h1.7M296.2 328.9h1.7M280.8 335.6h1.7M292.9 328.2h1.7M287.8 345.0h1.7M278.0 308.4h1.7M285.1 320.2h1.7M281.6 302.4h1.7M281.4 336.6h1.7M286.4 340.3h1.7M294.1 322.3h1.7M283.2 346.5h1.7M286.7 323.0h1.7M274.2 334.5h1.7M286.6 330.0h1.7M294.8 322.6h1.7M292.1 325.2h1.7M289.5 302.7h1.7M281.6 318.0h1.7M278.0 341.9h1.7M285.0 313.6h1.7M275.2 342.5h1.7M276.0 324.7h1.7M293.2 341.3h1.7M278.5 336.1h1.7M299.9 309.5h1.7M274.5 332.7h1.7M289.1 333.8h1.7M276.5 332.8h1.7M287.1 329.7h1.7M277.5 307.9h1.7M286.1 340.5h1.7M284.5 341.2h1.7M282.2 318.6h1.7M289.8 345.7h1.7M297.6 330.4h1.7M281.1 311.8h1.7M292.7 325.8h1.7M286.4 331.8h1.7M285.5 334.7h1.7M303.0 337.3h1.7M268.6 333.2h1.7M280.4 324.2h1.7M271.5 310.4h1.7M283.3 313.9h1.7M283.9 332.9h1.7M315.8 335.0h1.7M288.5 317.3h1.7M299.9 348.5h1.7M296.0 331.4h1.7M282.3 330.0h1.7M289.5 339.8h1.7M298.9 338.3h1.7M287.1 321.7h1.7M287.4 346.5h1.7M289.7 337.4h1.7M273.9 334.1h1.7M279.3 325.0h1.7M288.4 343.1h1.7M290.0 312.5h1.7M278.5 329.9h1.7M283.2 329.3h1.7M284.8 330.6h1.7M284.5 334.4h1.7M291.2 338.3h1.7M286.6 311.9h1.7M287.0 323.6h1.7M274.6 327.5h1.7M277.4 313.8h1.7M288.3 335.0h1.7M273.1 318.3h1.7M287.8 325.9h1.7M280.5 337.2h1.7M279.3 316.8h1.7M290.8 344.7h1.7M280.4 318.1h1.7M278.9 337.2h1.7M280.4 321.2h1.7M286.2 309.1h1.7M307.4 319.2h1.7M269.0 333.7h1.7M285.5 326.6h1.7M283.8 330.8h1.7M293.2 340.8h1.7M282.8 340.0h1.7M266.2 325.8h1.7M296.2 319.7h1.7M277.1 348.2h1.7M285.2 327.2h1.7M274.8 320.1h1.7M277.0 325.0h1.7M281.7 338.8h1.7M292.4 313.6h1.7M292.3 341.4h1.7M280.9 318.4h1.7M289.6 306.6h1.7M282.7 351.7h1.7M286.5 323.2h1.7M286.9 322.6h1.7M290.5 323.6h1.7M280.8 335.9h1.7M284.6 330.3h1.7M287.3 343.7h1.7M286.3 324.8h1.7M279.3 319.8h1.7M299.2 334.7h1.7M282.0 337.9h1.7M291.6 332.3h1.7M287.2 326.6h1.7M295.3 325.8h1.7M268.3 327.8h1.7M301.8 325.7h1.7M283.9 342.7h1.7M275.9 360.3h1.7M286.6 318.9h1.7M303.5 309.0h1.7M289.6 344.0h1.7M275.9 334.8h1.7M281.9 322.9h1.7M296.2 314.8h1.7M274.5 318.6h1.7M284.2 310.8h1.7M283.3 327.2h1.7M302.7 321.5h1.7M283.3 321.5h1.7M296.0 331.9h1.7M280.2 311.8h1.7M279.2 318.9h1.7M293.5 314.5h1.7M290.5 331.4h1.7M271.9 313.9h1.7M290.6 339.6h1.7M290.7 321.8h1.7M280.7 358.8h1.7M287.3 339.1h1.7M287.7 317.5h1.7M281.7 332.2h1.7M281.0 324.5h1.7M280.3 346.6h1.7M283.4 307.6h1.7M275.1 319.3h1.7M285.2 326.9h1.7M273.7 321.5h1.7M286.2 322.6h1.7M284.9 309.2h1.7M277.4 324.0h1.7M292.3 344.8h1.7M300.9 329.8h1.7M296.0 310.8h1.7M274.8 319.6h1.7M295.6 331.8h1.7M287.3 319.1h1.7M285.1 325.2h1.7M280.9 319.1h1.7M285.5 346.2h1.7M296.5 337.7h1.7M289.9 318.4h1.7M282.3 329.4h1.7M280.3 322.3h1.7M282.3 302.5h1.7M290.2 330.5h1.7M300.3 323.7h1.7M277.2 333.5h1.7M285.5 334.3h1.7M282.5 327.6h1.7M279.6 344.5h1.7M288.7 352.5h1.7M289.9 309.8h1.7M274.4 327.9h1.7M277.4 312.8h1.7M295.0 325.1h1.7M288.1 324.8h1.7M289.7 318.4h1.7M281.6 317.8h1.7M282.5 341.4h1.7M289.2 311.8h1.7M281.6 338.6h1.7M276.8 324.1h1.7M285.6 295.2h1.7M292.7 325.6h1.7M277.4 306.1h1.7M293.9 330.9h1.7M291.1 319.1h1.7M278.7 326.0h1.7M285.6 321.5h1.7M285.2 337.1h1.7M290.6 337.9h1.7M290.8 322.5h1.7M275.3 345.8h1.7M274.9 337.0h1.7M293.7 318.7h1.7M286.4 334.2h1.7M288.8 337.5h1.7M288.2 340.2h1.7M297.6 324.8h1.7M276.0 331.1h1.7M294.1 324.8h1.7M279.1 328.9h1.7M291.3 303.9h1.7M296.1 332.0h1.7M274.7 350.7h1.7M288.7 325.2h1.7M283.4 326.6h1.7M283.3 324.7h1.7M285.9 346.3h1.7M277.3 312.7h1.7M278.0 327.0h1.7M290.7 327.1h1.7M292.2 346.0h1.7M281.1 320.8h1.7M274.1 327.4h1.7M303.8 310.0h1.7M294.2 331.7h1.7M288.4 341.8h1.7M277.4 325.0h1.7M281.0 337.8h1.7M287.5 321.5h1.7M278.0 339.9h1.7M298.2 328.2h1.7M286.6 329.4h1.7M288.6 327.0h1.7M277.5 332.9h1.7M278.4 336.5h1.7M279.4 327.3h1.7M287.7 333.7h1.7M283.5 324.7h1.7M283.3 329.9h1.7M288.0 354.1h1.7M287.3 327.4h1.7M297.2 309.6h1.7M284.0 322.9h1.7M277.6 319.3h1.7M285.5 321.0h1.7M297.0 332.3h1.7M281.2 342.9h1.7M285.9 316.7h1.7M282.7 313.7h1.7M288.7 319.7h1.7M287.6 321.4h1.7M279.2 321.8h1.7M283.8 326.9h1.7M292.9 323.3h1.7M294.1 326.5h1.7M292.8 322.6h1.7M292.3 338.1h1.7M282.9 334.3h1.7M282.7 319.7h1.7M292.8 330.7h1.7M276.4 356.0h1.7M285.1 325.1h1.7M271.0 354.4h1.7M282.6 303.4h1.7M280.0 317.9h1.7M276.1 318.4h1.7M290.1 334.6h1.7M279.8 340.3h1.7M282.7 329.2h1.7M283.5 326.3h1.7M279.8 335.9h1.7M296.7 324.7h1.7M281.7 318.2h1.7M287.1 319.3h1.7M275.3 339.1h1.7M281.9 352.7h1.7M283.0 326.5h1.7M283.2 334.5h1.7M281.0 321.1h1.7M286.7 306.7h1.7M297.8 306.7h1.7M284.5 323.1h1.7M284.5 313.1h1.7M282.5 306.7h1.7M305.4 326.0h1.7M298.2 323.2h1.7M289.9 316.2h1.7M291.1 326.9h1.7M280.0 332.5h1.7M284.4 335.5h1.7M287.2 326.4h1.7M286.5 334.0h1.7M278.9 316.9h1.7M279.5 330.5h1.7M289.6 308.8h1.7M288.0 311.9h1.7M269.1 341.3h1.7M286.3 313.4h1.7M295.5 331.3h1.7M280.5 309.9h1.7M287.5 320.2h1.7M274.2 326.9h1.7M292.1 318.3h1.7M276.9 333.1h1.7M275.8 322.4h1.7M283.1 321.7h1.7M304.1 328.1h1.7M280.8 321.7h1.7M275.7 338.3h1.7M289.2 319.6h1.7M287.4 340.8h1.7M298.5 318.8h1.7M275.7 320.6h1.7M273.1 317.8h1.7M283.1 333.0h1.7M288.5 289.9h1.7M288.4 329.0h1.7M294.1 324.4h1.7M273.9 335.3h1.7M279.1 309.1h1.7M284.6 331.8h1.7M292.1 314.3h1.7M289.3 337.5h1.7M282.3 322.5h1.7M277.6 330.6h1.7M292.5 315.0h1.7M293.0 329.6h1.7M306.8 336.4h1.7M284.2 320.7h1.7M298.3 340.4h1.7M276.1 337.5h1.7M281.3 316.9h1.7M280.3 348.4h1.7M282.0 317.0h1.7M278.8 330.8h1.7M281.3 337.0h1.7M285.2 323.1h1.7M282.1 318.5h1.7M290.7 333.0h1.7M284.9 328.1h1.7M285.6 316.5h1.7M297.1 317.0h1.7M288.0 326.6h1.7M286.8 335.1h1.7M285.4 337.2h1.7M286.1 333.0h1.7M290.1 317.8h1.7M279.3 319.1h1.7M294.5 322.3h1.7M297.9 309.3h1.7M294.6 329.5h1.7M281.8 330.4h1.7M273.2 330.5h1.7M282.2 303.1h1.7M286.8 350.3h1.7M292.1 322.4h1.7M284.2 320.5h1.7M283.2 325.1h1.7M297.5 298.1h1.7M280.4 311.9h1.7M293.9 316.6h1.7M292.7 336.4h1.7M275.2 319.9h1.7M287.8 330.2h1.7M281.2 325.2h1.7M278.2 323.4h1.7M271.2 331.4h1.7M273.4 318.2h1.7M288.8 306.4h1.7M282.6 313.4h1.7M287.7 323.1h1.7M277.3 348.6h1.7M333.8 374.7h1.7M338.4 365.9h1.7M326.6 365.7h1.7M323.0 331.5h1.7M326.2 347.3h1.7M312.2 328.5h1.7M322.1 355.0h1.7M324.3 331.1h1.7M329.6 338.3h1.7M328.0 361.7h1.7M318.4 321.6h1.7M334.7 356.0h1.7M313.1 326.8h1.7M324.6 347.5h1.7M317.5 339.2h1.7M317.3 324.3h1.7M324.9 346.1h1.7M314.6 337.0h1.7M320.0 329.6h1.7M335.2 371.7h1.7M316.1 341.3h1.7M334.9 374.1h1.7M325.4 348.6h1.7M321.6 342.2h1.7M315.3 329.3h1.7M334.3 360.9h1.7M313.9 323.9h1.7M329.8 364.7h1.7M327.9 351.6h1.7M323.7 340.8h1.7M320.4 323.6h1.7M321.0 347.3h1.7M315.2 321.0h1.7M331.6 360.1h1.7M328.2 350.9h1.7M319.5 333.1h1.7M325.6 342.3h1.7M314.9 328.1h1.7M329.4 362.9h1.7M320.0 325.2h1.7M313.9 325.2h1.7M323.2 343.1h1.7M338.3 359.4h1.7M332.1 369.0h1.7M326.1 346.9h1.7M336.6 363.3h1.7M323.1 335.4h1.7M317.8 327.7h1.7M339.4 367.2h1.7M317.4 315.8h1.7M329.9 359.2h1.7M335.8 362.1h1.7M314.3 310.1h1.7M332.8 363.7h1.7M328.1 375.1h1.7M316.1 326.2h1.7M323.9 349.8h1.7M319.4 334.1h1.7M325.7 340.3h1.7M320.7 347.5h1.7M322.3 347.8h1.7M313.7 323.5h1.7M318.3 336.3h1.7M319.6 350.6h1.7M330.6 348.8h1.7M329.8 356.3h1.7M334.5 359.3h1.7M326.5 351.9h1.7M335.2 372.2h1.7M322.8 349.8h1.7M320.2 331.5h1.7M312.0 317.5h1.7M334.0 355.5h1.7M328.4 351.4h1.7M318.1 334.3h1.7M330.0 339.8h1.7M339.6 366.1h1.7M329.4 354.3h1.7M318.6 349.3h1.7M328.9 367.0h1.7M322.4 352.2h1.7M312.2 315.2h1.7M313.1 324.5h1.7M335.6 374.1h1.7M310.9 327.8h1.7M335.7 346.3h1.7M310.6 316.2h1.7M321.5 350.4h1.7M321.1 336.4h1.7M317.1 345.8h1.7M317.3 335.8h1.7M325.0 340.7h1.7M330.6 346.0h1.7M322.9 339.1h1.7M314.8 327.9h1.7M327.8 364.2h1.7M337.7 364.2h1.7M324.1 338.6h1.7M319.7 347.9h1.7M310.9 333.0h1.7M316.0 314.4h1.7M325.8 338.8h1.7M312.3 318.1h1.7M335.1 368.9h1.7M324.1 345.5h1.7M322.2 340.7h1.7M327.5 348.1h1.7M322.7 321.1h1.7M334.9 361.8h1.7M323.9 349.3h1.7M314.5 353.7h1.7M305.1 377.1h1.7M300.5 371.7h1.7M312.3 365.6h1.7M317.6 359.1h1.7M314.2 348.7h1.7M301.5 362.3h1.7M314.4 349.7h1.7M313.2 378.5h1.7M294.0 364.1h1.7M315.3 354.9h1.7M314.5 364.4h1.7M312.1 371.9h1.7M298.6 355.3h1.7M300.1 337.8h1.7M315.2 361.4h1.7M314.0 368.6h1.7M312.1 370.0h1.7M307.6 337.4h1.7M311.5 360.7h1.7M305.8 353.1h1.7M307.2 346.0h1.7M303.8 347.7h1.7M310.7 370.9h1.7M306.6 349.1h1.7M314.9 350.4h1.7M313.5 354.5h1.7M304.2 348.5h1.7M320.3 366.7h1.7M302.3 361.1h1.7M311.8 366.3h1.7M315.7 351.4h1.7M316.9 367.8h1.7M295.6 355.6h1.7M315.2 372.9h1.7M316.5 361.6h1.7M317.9 364.4h1.7M295.5 361.5h1.7M305.0 358.7h1.7M308.5 362.3h1.7M306.4 362.8h1.7M317.3 384.2h1.7M305.0 347.4h1.7M316.6 367.4h1.7" stroke="#000" stroke-width="1.7" fill="none"/>
<polyline points="262.60,350.43 263.92,346.88 265.23,343.47 266.55,340.20 267.86,337.06 269.18,334.07 270.49,331.21 271.81,328.49 273.12,325.91 274.44,323.46 275.75,321.16 277.07,318.99 278.38,316.96 279.70,315.07 281.01,313.32 282.33,311.71 283.64,310.24 284.96,308.90 286.27,307.70 287.59,306.64 288.91,305.72 290.22,304.94 291.54,304.29 292.85,303.79 294.17,303.42 295.48,303.19 296.80,303.10 298.11,303.15 299.43,303.34 300.74,303.66 302.06,304.12 303.37,304.72 304.69,305.46 306.00,306.34 307.32,307.36 308.63,308.51 309.95,309.81 311.26,311.24 312.58,312.81 313.89,314.52 315.21,316.36 316.53,318.35 317.84,320.47 319.16,322.74 320.47,325.14 321.79,327.67 323.10,330.35 324.42,333.17 325.73,336.12 327.05,339.21 328.36,342.44 329.68,345.81 330.99,349.32 332.31,352.97 333.62,356.75 334.94,360.67 336.25,364.74 337.57,368.94 338.88,373.27 340.20,377.75" fill="none" stroke="#FF0000" stroke-width="1.4"/>
<path d="M270.75 232.5v-1.6M270.75 387.5v1.6M295.25 232.5v-1.6M295.25 387.5v1.6M319.75 232.5v-1.6M319.75 387.5v1.6" stroke="#262626" stroke-width="0.75"/>
<path d="M246 271.2h-1.6M344.5 271.2h1.6M246 309.9h-1.6M344.5 309.9h1.6M246 348.6h-1.6M344.5 348.6h1.6" stroke="#262626" stroke-width="0.75"/>
<text x="294.45" y="228.8" font-size="12.4" text-anchor="middle" font-weight="normal" fill="#262626" >OBS</text>
<text x="252.5" y="249.6" font-size="15.4" fill="#000" class="k"><tspan font-family="Liberation Serif" font-style="italic" font-size="16.5">α</tspan> = -0.31</text>
<text x="270.75" y="410.2" font-size="14.5" text-anchor="middle" font-weight="normal" fill="#262626" >-2</text>
<text x="295.25" y="410.2" font-size="14.5" text-anchor="middle" font-weight="normal" fill="#262626" >0</text>
<text x="319.75" y="410.2" font-size="14.5" text-anchor="middle" font-weight="normal" fill="#262626" >2</text>
<path d="M49.5 232.5H344.5M49.5 387.5H344.5M49.5 232.5V387.5M147.5 232.5V387.5M344.5 232.5V387.5" stroke="#262626" stroke-width="0.75" fill="none"/>
<path d="M246 232.5V387.5" stroke="#262626" stroke-width="0.68" fill="none"/>
<text x="41.3" y="276.7" font-size="14.5" text-anchor="end" font-weight="normal" fill="#262626" >2</text>
<text x="41.3" y="315.4" font-size="14.5" text-anchor="end" font-weight="normal" fill="#262626" >0</text>
<text x="41.3" y="354.1" font-size="14.5" text-anchor="end" font-weight="normal" fill="#262626" >-2</text>
<text transform="translate(20.6,309.8) rotate(-90)" font-size="16" text-anchor="middle" fill="#262626">PC2</text>
<text x="197" y="431" font-size="16" text-anchor="middle" fill="#262626">PC1</text>
</svg>
</body></html>
